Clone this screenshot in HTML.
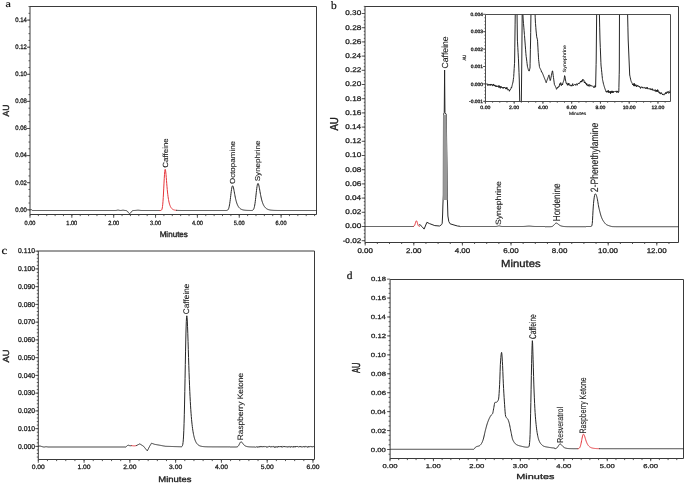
<!DOCTYPE html>
<html><head><meta charset="utf-8"><style>
html,body{margin:0;padding:0;background:#fff;}
body{width:685px;height:484px;overflow:hidden;font-family:"Liberation Sans", sans-serif;}
svg{display:block;filter:blur(0.3px);}
svg text{text-rendering:geometricPrecision;font-kerning:none;letter-spacing:0;white-space:pre;}
</style></head><body>
<svg width="685" height="484" viewBox="0 0 685 484">
<rect width="685" height="484" fill="#fff"/>
<line x1="30.00" y1="6.50" x2="316.50" y2="6.50" stroke="#3a3a3a" stroke-width="1.0"/>
<line x1="316.50" y1="6.50" x2="316.50" y2="214.50" stroke="#3a3a3a" stroke-width="1.0"/>
<line x1="30.00" y1="6.50" x2="30.00" y2="214.50" stroke="#3a3a3a" stroke-width="1.0"/>
<line x1="30.00" y1="214.50" x2="316.50" y2="214.50" stroke="#3a3a3a" stroke-width="1.0"/>
<line x1="28.50" y1="209.80" x2="30.00" y2="209.80" stroke="#444" stroke-width="0.9"/>
<line x1="28.50" y1="203.03" x2="30.00" y2="203.03" stroke="#444" stroke-width="0.9"/>
<line x1="28.50" y1="196.25" x2="30.00" y2="196.25" stroke="#444" stroke-width="0.9"/>
<line x1="28.50" y1="189.48" x2="30.00" y2="189.48" stroke="#444" stroke-width="0.9"/>
<line x1="28.50" y1="182.70" x2="30.00" y2="182.70" stroke="#444" stroke-width="0.9"/>
<line x1="28.50" y1="175.93" x2="30.00" y2="175.93" stroke="#444" stroke-width="0.9"/>
<line x1="28.50" y1="169.15" x2="30.00" y2="169.15" stroke="#444" stroke-width="0.9"/>
<line x1="28.50" y1="162.38" x2="30.00" y2="162.38" stroke="#444" stroke-width="0.9"/>
<line x1="28.50" y1="155.60" x2="30.00" y2="155.60" stroke="#444" stroke-width="0.9"/>
<line x1="28.50" y1="148.82" x2="30.00" y2="148.82" stroke="#444" stroke-width="0.9"/>
<line x1="28.50" y1="142.05" x2="30.00" y2="142.05" stroke="#444" stroke-width="0.9"/>
<line x1="28.50" y1="135.28" x2="30.00" y2="135.28" stroke="#444" stroke-width="0.9"/>
<line x1="28.50" y1="128.50" x2="30.00" y2="128.50" stroke="#444" stroke-width="0.9"/>
<line x1="28.50" y1="121.73" x2="30.00" y2="121.73" stroke="#444" stroke-width="0.9"/>
<line x1="28.50" y1="114.95" x2="30.00" y2="114.95" stroke="#444" stroke-width="0.9"/>
<line x1="28.50" y1="108.18" x2="30.00" y2="108.18" stroke="#444" stroke-width="0.9"/>
<line x1="28.50" y1="101.40" x2="30.00" y2="101.40" stroke="#444" stroke-width="0.9"/>
<line x1="28.50" y1="94.63" x2="30.00" y2="94.63" stroke="#444" stroke-width="0.9"/>
<line x1="28.50" y1="87.85" x2="30.00" y2="87.85" stroke="#444" stroke-width="0.9"/>
<line x1="28.50" y1="81.08" x2="30.00" y2="81.08" stroke="#444" stroke-width="0.9"/>
<line x1="28.50" y1="74.30" x2="30.00" y2="74.30" stroke="#444" stroke-width="0.9"/>
<line x1="28.50" y1="67.53" x2="30.00" y2="67.53" stroke="#444" stroke-width="0.9"/>
<line x1="28.50" y1="60.75" x2="30.00" y2="60.75" stroke="#444" stroke-width="0.9"/>
<line x1="28.50" y1="53.98" x2="30.00" y2="53.98" stroke="#444" stroke-width="0.9"/>
<line x1="28.50" y1="47.20" x2="30.00" y2="47.20" stroke="#444" stroke-width="0.9"/>
<line x1="28.50" y1="40.43" x2="30.00" y2="40.43" stroke="#444" stroke-width="0.9"/>
<line x1="28.50" y1="33.65" x2="30.00" y2="33.65" stroke="#444" stroke-width="0.9"/>
<line x1="28.50" y1="26.88" x2="30.00" y2="26.88" stroke="#444" stroke-width="0.9"/>
<line x1="28.50" y1="20.10" x2="30.00" y2="20.10" stroke="#444" stroke-width="0.9"/>
<line x1="28.50" y1="13.33" x2="30.00" y2="13.33" stroke="#444" stroke-width="0.9"/>
<line x1="28.50" y1="6.55" x2="30.00" y2="6.55" stroke="#444" stroke-width="0.9"/>
<line x1="27.00" y1="209.80" x2="30.00" y2="209.80" stroke="#444" stroke-width="0.9"/>
<line x1="27.00" y1="182.70" x2="30.00" y2="182.70" stroke="#444" stroke-width="0.9"/>
<line x1="27.00" y1="155.60" x2="30.00" y2="155.60" stroke="#444" stroke-width="0.9"/>
<line x1="27.00" y1="128.50" x2="30.00" y2="128.50" stroke="#444" stroke-width="0.9"/>
<line x1="27.00" y1="101.40" x2="30.00" y2="101.40" stroke="#444" stroke-width="0.9"/>
<line x1="27.00" y1="74.30" x2="30.00" y2="74.30" stroke="#444" stroke-width="0.9"/>
<line x1="27.00" y1="47.20" x2="30.00" y2="47.20" stroke="#444" stroke-width="0.9"/>
<line x1="27.00" y1="20.10" x2="30.00" y2="20.10" stroke="#444" stroke-width="0.9"/>
<line x1="30.00" y1="214.50" x2="30.00" y2="216.10" stroke="#444" stroke-width="0.9"/>
<line x1="38.37" y1="214.50" x2="38.37" y2="216.10" stroke="#444" stroke-width="0.9"/>
<line x1="46.74" y1="214.50" x2="46.74" y2="216.10" stroke="#444" stroke-width="0.9"/>
<line x1="55.11" y1="214.50" x2="55.11" y2="216.10" stroke="#444" stroke-width="0.9"/>
<line x1="63.48" y1="214.50" x2="63.48" y2="216.10" stroke="#444" stroke-width="0.9"/>
<line x1="71.85" y1="214.50" x2="71.85" y2="216.10" stroke="#444" stroke-width="0.9"/>
<line x1="80.22" y1="214.50" x2="80.22" y2="216.10" stroke="#444" stroke-width="0.9"/>
<line x1="88.59" y1="214.50" x2="88.59" y2="216.10" stroke="#444" stroke-width="0.9"/>
<line x1="96.96" y1="214.50" x2="96.96" y2="216.10" stroke="#444" stroke-width="0.9"/>
<line x1="105.33" y1="214.50" x2="105.33" y2="216.10" stroke="#444" stroke-width="0.9"/>
<line x1="113.70" y1="214.50" x2="113.70" y2="216.10" stroke="#444" stroke-width="0.9"/>
<line x1="122.07" y1="214.50" x2="122.07" y2="216.10" stroke="#444" stroke-width="0.9"/>
<line x1="130.44" y1="214.50" x2="130.44" y2="216.10" stroke="#444" stroke-width="0.9"/>
<line x1="138.81" y1="214.50" x2="138.81" y2="216.10" stroke="#444" stroke-width="0.9"/>
<line x1="147.18" y1="214.50" x2="147.18" y2="216.10" stroke="#444" stroke-width="0.9"/>
<line x1="155.55" y1="214.50" x2="155.55" y2="216.10" stroke="#444" stroke-width="0.9"/>
<line x1="163.92" y1="214.50" x2="163.92" y2="216.10" stroke="#444" stroke-width="0.9"/>
<line x1="172.29" y1="214.50" x2="172.29" y2="216.10" stroke="#444" stroke-width="0.9"/>
<line x1="180.66" y1="214.50" x2="180.66" y2="216.10" stroke="#444" stroke-width="0.9"/>
<line x1="189.03" y1="214.50" x2="189.03" y2="216.10" stroke="#444" stroke-width="0.9"/>
<line x1="197.40" y1="214.50" x2="197.40" y2="216.10" stroke="#444" stroke-width="0.9"/>
<line x1="205.77" y1="214.50" x2="205.77" y2="216.10" stroke="#444" stroke-width="0.9"/>
<line x1="214.14" y1="214.50" x2="214.14" y2="216.10" stroke="#444" stroke-width="0.9"/>
<line x1="222.51" y1="214.50" x2="222.51" y2="216.10" stroke="#444" stroke-width="0.9"/>
<line x1="230.88" y1="214.50" x2="230.88" y2="216.10" stroke="#444" stroke-width="0.9"/>
<line x1="239.25" y1="214.50" x2="239.25" y2="216.10" stroke="#444" stroke-width="0.9"/>
<line x1="247.62" y1="214.50" x2="247.62" y2="216.10" stroke="#444" stroke-width="0.9"/>
<line x1="255.99" y1="214.50" x2="255.99" y2="216.10" stroke="#444" stroke-width="0.9"/>
<line x1="264.36" y1="214.50" x2="264.36" y2="216.10" stroke="#444" stroke-width="0.9"/>
<line x1="272.73" y1="214.50" x2="272.73" y2="216.10" stroke="#444" stroke-width="0.9"/>
<line x1="281.10" y1="214.50" x2="281.10" y2="216.10" stroke="#444" stroke-width="0.9"/>
<line x1="289.47" y1="214.50" x2="289.47" y2="216.10" stroke="#444" stroke-width="0.9"/>
<line x1="297.84" y1="214.50" x2="297.84" y2="216.10" stroke="#444" stroke-width="0.9"/>
<line x1="306.21" y1="214.50" x2="306.21" y2="216.10" stroke="#444" stroke-width="0.9"/>
<line x1="314.58" y1="214.50" x2="314.58" y2="216.10" stroke="#444" stroke-width="0.9"/>
<line x1="30.00" y1="214.50" x2="30.00" y2="217.80" stroke="#444" stroke-width="0.9"/>
<line x1="71.85" y1="214.50" x2="71.85" y2="217.80" stroke="#444" stroke-width="0.9"/>
<line x1="113.70" y1="214.50" x2="113.70" y2="217.80" stroke="#444" stroke-width="0.9"/>
<line x1="155.55" y1="214.50" x2="155.55" y2="217.80" stroke="#444" stroke-width="0.9"/>
<line x1="197.40" y1="214.50" x2="197.40" y2="217.80" stroke="#444" stroke-width="0.9"/>
<line x1="239.25" y1="214.50" x2="239.25" y2="217.80" stroke="#444" stroke-width="0.9"/>
<line x1="281.10" y1="214.50" x2="281.10" y2="217.80" stroke="#444" stroke-width="0.9"/>
<text transform="matrix(0.59237 0 0 0.64971 15.302 211.637)" font-family='"Liberation Sans", sans-serif' font-size="10" fill="#262626" stroke="#262626" stroke-width="0.483" stroke-linejoin="round">0.00</text>
<text transform="matrix(0.59237 0 0 0.64971 15.369 184.537)" font-family='"Liberation Sans", sans-serif' font-size="10" fill="#262626" stroke="#262626" stroke-width="0.483" stroke-linejoin="round">0.02</text>
<text transform="matrix(0.59237 0 0 0.64971 15.244 157.437)" font-family='"Liberation Sans", sans-serif' font-size="10" fill="#262626" stroke="#262626" stroke-width="0.483" stroke-linejoin="round">0.04</text>
<text transform="matrix(0.59237 0 0 0.64971 15.331 130.337)" font-family='"Liberation Sans", sans-serif' font-size="10" fill="#262626" stroke="#262626" stroke-width="0.483" stroke-linejoin="round">0.06</text>
<text transform="matrix(0.59237 0 0 0.64971 15.328 103.237)" font-family='"Liberation Sans", sans-serif' font-size="10" fill="#262626" stroke="#262626" stroke-width="0.483" stroke-linejoin="round">0.08</text>
<text transform="matrix(0.59237 0 0 0.64971 15.302 76.137)" font-family='"Liberation Sans", sans-serif' font-size="10" fill="#262626" stroke="#262626" stroke-width="0.483" stroke-linejoin="round">0.10</text>
<text transform="matrix(0.59237 0 0 0.64971 15.369 49.037)" font-family='"Liberation Sans", sans-serif' font-size="10" fill="#262626" stroke="#262626" stroke-width="0.483" stroke-linejoin="round">0.12</text>
<text transform="matrix(0.59237 0 0 0.64971 15.244 21.937)" font-family='"Liberation Sans", sans-serif' font-size="10" fill="#262626" stroke="#262626" stroke-width="0.483" stroke-linejoin="round">0.14</text>
<text transform="matrix(0.56176 0 0 0.60734 24.533 224.941)" font-family='"Liberation Sans", sans-serif' font-size="10" fill="#262626" stroke="#262626" stroke-width="0.513" stroke-linejoin="round">0.00</text>
<text transform="matrix(0.56176 0 0 0.60734 66.279 224.941)" font-family='"Liberation Sans", sans-serif' font-size="10" fill="#262626" stroke="#262626" stroke-width="0.513" stroke-linejoin="round">1.00</text>
<text transform="matrix(0.56176 0 0 0.60734 108.202 224.941)" font-family='"Liberation Sans", sans-serif' font-size="10" fill="#262626" stroke="#262626" stroke-width="0.513" stroke-linejoin="round">2.00</text>
<text transform="matrix(0.56176 0 0 0.60734 150.086 224.941)" font-family='"Liberation Sans", sans-serif' font-size="10" fill="#262626" stroke="#262626" stroke-width="0.513" stroke-linejoin="round">3.00</text>
<text transform="matrix(0.56176 0 0 0.60734 191.979 224.941)" font-family='"Liberation Sans", sans-serif' font-size="10" fill="#262626" stroke="#262626" stroke-width="0.513" stroke-linejoin="round">4.00</text>
<text transform="matrix(0.56176 0 0 0.60734 233.781 224.941)" font-family='"Liberation Sans", sans-serif' font-size="10" fill="#262626" stroke="#262626" stroke-width="0.513" stroke-linejoin="round">5.00</text>
<text transform="matrix(0.56176 0 0 0.60734 275.600 224.941)" font-family='"Liberation Sans", sans-serif' font-size="10" fill="#262626" stroke="#262626" stroke-width="0.513" stroke-linejoin="round">6.00</text>
<path d="M30.00,210.25 L30.25,210.04 L30.50,209.79 L30.75,209.58 L31.00,209.50 L31.25,209.58 L31.50,209.79 L31.75,210.04 L32.00,210.25 L32.25,210.39 L32.50,210.46 L32.75,210.49 L33.00,210.50 L33.25,210.50 L33.50,210.50 L33.75,210.50 L34.00,210.50 L34.25,210.50 L34.50,210.50 L34.75,210.50 L35.00,210.50 L35.25,210.50 L35.50,210.50 L35.75,210.50 L36.00,210.50 L36.25,210.50 L36.50,210.50 L36.75,210.50 L37.00,210.50 L37.25,210.50 L37.50,210.50 L37.75,210.50 L38.00,210.50 L38.25,210.50 L38.50,210.50 L38.75,210.50 L39.00,210.50 L39.25,210.50 L39.50,210.50 L39.75,210.50 L40.00,210.50 L40.25,210.50 L40.50,210.50 L40.75,210.50 L41.00,210.50 L41.25,210.50 L41.50,210.50 L41.75,210.50 L42.00,210.50 L42.25,210.50 L42.50,210.50 L42.75,210.50 L43.00,210.50 L43.25,210.50 L43.50,210.50 L43.75,210.50 L44.00,210.50 L44.25,210.50 L44.50,210.50 L44.75,210.50 L45.00,210.50 L45.25,210.50 L45.50,210.50 L45.75,210.50 L46.00,210.50 L46.25,210.50 L46.50,210.50 L46.75,210.50 L47.00,210.50 L47.25,210.50 L47.50,210.50 L47.75,210.50 L48.00,210.50 L48.25,210.50 L48.50,210.50 L48.75,210.50 L49.00,210.50 L49.25,210.50 L49.50,210.50 L49.75,210.50 L50.00,210.50 L50.25,210.50 L50.50,210.50 L50.75,210.50 L51.00,210.50 L51.25,210.50 L51.50,210.50 L51.75,210.50 L52.00,210.50 L52.25,210.50 L52.50,210.50 L52.75,210.50 L53.00,210.50 L53.25,210.50 L53.50,210.50 L53.75,210.50 L54.00,210.50 L54.25,210.50 L54.50,210.50 L54.75,210.50 L55.00,210.50 L55.25,210.50 L55.50,210.50 L55.75,210.50 L56.00,210.50 L56.25,210.50 L56.50,210.50 L56.75,210.50 L57.00,210.50 L57.25,210.50 L57.50,210.50 L57.75,210.50 L58.00,210.50 L58.25,210.50 L58.50,210.50 L58.75,210.50 L59.00,210.50 L59.25,210.50 L59.50,210.50 L59.75,210.50 L60.00,210.50 L60.25,210.50 L60.50,210.50 L60.75,210.50 L61.00,210.50 L61.25,210.50 L61.50,210.50 L61.75,210.50 L62.00,210.50 L62.25,210.50 L62.50,210.50 L62.75,210.50 L63.00,210.50 L63.25,210.50 L63.50,210.50 L63.75,210.50 L64.00,210.50 L64.25,210.50 L64.50,210.50 L64.75,210.50 L65.00,210.50 L65.25,210.50 L65.50,210.50 L65.75,210.50 L66.00,210.50 L66.25,210.50 L66.50,210.50 L66.75,210.50 L67.00,210.50 L67.25,210.50 L67.50,210.50 L67.75,210.50 L68.00,210.50 L68.25,210.50 L68.50,210.50 L68.75,210.50 L69.00,210.50 L69.25,210.50 L69.50,210.50 L69.75,210.50 L70.00,210.50 L70.25,210.50 L70.50,210.50 L70.75,210.50 L71.00,210.50 L71.25,210.50 L71.50,210.50 L71.75,210.50 L72.00,210.50 L72.25,210.50 L72.50,210.50 L72.75,210.50 L73.00,210.50 L73.25,210.50 L73.50,210.50 L73.75,210.50 L74.00,210.50 L74.25,210.50 L74.50,210.50 L74.75,210.50 L75.00,210.50 L75.25,210.50 L75.50,210.50 L75.75,210.50 L76.00,210.50 L76.25,210.50 L76.50,210.50 L76.75,210.50 L77.00,210.50 L77.25,210.50 L77.50,210.50 L77.75,210.50 L78.00,210.50 L78.25,210.50 L78.50,210.50 L78.75,210.50 L79.00,210.50 L79.25,210.50 L79.50,210.50 L79.75,210.50 L80.00,210.50 L80.25,210.50 L80.50,210.50 L80.75,210.50 L81.00,210.50 L81.25,210.50 L81.50,210.50 L81.75,210.50 L82.00,210.50 L82.25,210.50 L82.50,210.50 L82.75,210.50 L83.00,210.50 L83.25,210.50 L83.50,210.50 L83.75,210.50 L84.00,210.50 L84.25,210.50 L84.50,210.50 L84.75,210.50 L85.00,210.50 L85.25,210.50 L85.50,210.50 L85.75,210.50 L86.00,210.50 L86.25,210.50 L86.50,210.50 L86.75,210.50 L87.00,210.50 L87.25,210.50 L87.50,210.50 L87.75,210.50 L88.00,210.50 L88.25,210.50 L88.50,210.50 L88.75,210.50 L89.00,210.50 L89.25,210.50 L89.50,210.50 L89.75,210.50 L90.00,210.50 L90.25,210.50 L90.50,210.50 L90.75,210.50 L91.00,210.50 L91.25,210.50 L91.50,210.50 L91.75,210.50 L92.00,210.50 L92.25,210.50 L92.50,210.50 L92.75,210.50 L93.00,210.50 L93.25,210.50 L93.50,210.50 L93.75,210.50 L94.00,210.50 L94.25,210.50 L94.50,210.50 L94.75,210.50 L95.00,210.50 L95.25,210.50 L95.50,210.50 L95.75,210.50 L96.00,210.50 L96.25,210.50 L96.50,210.50 L96.75,210.50 L97.00,210.50 L97.25,210.50 L97.50,210.50 L97.75,210.50 L98.00,210.50 L98.25,210.50 L98.50,210.50 L98.75,210.50 L99.00,210.50 L99.25,210.50 L99.50,210.50 L99.75,210.50 L100.00,210.50 L100.25,210.50 L100.50,210.50 L100.75,210.50 L101.00,210.50 L101.25,210.50 L101.50,210.50 L101.75,210.50 L102.00,210.50 L102.25,210.50 L102.50,210.50 L102.75,210.50 L103.00,210.50 L103.25,210.50 L103.50,210.50 L103.75,210.50 L104.00,210.50 L104.25,210.50 L104.50,210.50 L104.75,210.50 L105.00,210.50 L105.25,210.50 L105.50,210.50 L105.75,210.50 L106.00,210.50 L106.25,210.50 L106.50,210.50 L106.75,210.50 L107.00,210.50 L107.25,210.50 L107.50,210.50 L107.75,210.50 L108.00,210.50 L108.25,210.50 L108.50,210.50 L108.75,210.50 L109.00,210.50 L109.25,210.50 L109.50,210.50 L109.75,210.50 L110.00,210.50 L110.25,210.50 L110.50,210.50 L110.75,210.50 L111.00,210.50 L111.25,210.50 L111.50,210.50 L111.75,210.50 L112.00,210.50 L112.25,210.50 L112.50,210.50 L112.75,210.50 L113.00,210.50 L113.25,210.50 L113.50,210.50 L113.75,210.50 L114.00,210.50 L114.25,210.50 L114.50,210.50 L114.75,210.50 L115.00,210.50 L115.25,210.49 L115.50,210.48 L115.75,210.47 L116.00,210.45 L116.25,210.41 L116.50,210.37 L116.75,210.32 L117.00,210.26 L117.25,210.20 L117.50,210.15 L117.75,210.11 L118.00,210.10 L118.25,210.11 L118.50,210.15 L118.75,210.20 L119.00,210.26 L119.25,210.32 L119.50,210.37 L119.75,210.41 L120.00,210.44 L120.25,210.46 L120.50,210.47 L120.75,210.47 L121.00,210.45 L121.25,210.43 L121.50,210.40 L121.75,210.36 L122.00,210.32 L122.25,210.27 L122.50,210.24 L122.75,210.21 L123.00,210.20 L123.25,210.21 L123.50,210.24 L123.75,210.27 L124.00,210.32 L124.25,210.36 L124.50,210.40 L124.75,210.44 L125.00,210.47 L125.25,210.49 L125.50,210.51 L125.75,210.53 L126.00,210.57 L126.25,210.61 L126.50,210.69 L126.75,210.79 L127.00,210.93 L127.25,211.12 L127.50,211.37 L127.75,211.66 L128.00,212.00 L128.25,212.37 L128.50,212.74 L128.75,213.08 L129.00,213.38 L129.25,213.59 L129.50,213.69 L129.75,213.68 L130.00,213.55 L130.25,213.32 L130.50,213.02 L130.75,212.66 L131.00,212.29 L131.25,211.93 L131.50,211.60 L131.75,211.32 L132.00,211.08 L132.25,210.90 L132.50,210.77 L132.75,210.67 L133.00,210.60 L133.25,210.56 L133.50,210.53 L133.75,210.51 L134.00,210.50 L134.25,210.49 L134.50,210.48 L134.75,210.47 L135.00,210.46 L135.25,210.44 L135.50,210.43 L135.75,210.40 L136.00,210.38 L136.25,210.35 L136.50,210.32 L136.75,210.29 L137.00,210.26 L137.25,210.24 L137.50,210.22 L137.75,210.20 L138.00,210.20 L138.25,210.20 L138.50,210.22 L138.75,210.24 L139.00,210.26 L139.25,210.29 L139.50,210.32 L139.75,210.35 L140.00,210.38 L140.25,210.40 L140.50,210.43 L140.75,210.44 L141.00,210.46 L141.25,210.47 L141.50,210.48 L141.75,210.49 L142.00,210.49 L142.25,210.49 L142.50,210.50 L142.75,210.50 L143.00,210.50 L143.25,210.50 L143.50,210.50 L143.75,210.50 L144.00,210.50 L144.25,210.50 L144.50,210.50 L144.75,210.50 L145.00,210.50 L145.25,210.50 L145.50,210.50 L145.75,210.50 L146.00,210.50 L146.25,210.50 L146.50,210.50 L146.75,210.50 L147.00,210.50 L147.25,210.50 L147.50,210.50 L147.75,210.50 L148.00,210.50 L148.25,210.50 L148.50,210.50 L148.75,210.50 L149.00,210.50 L149.25,210.50 L149.50,210.50 L149.75,210.50 L150.00,210.50 L150.25,210.50 L150.50,210.50 L150.75,210.50 L151.00,210.50 L151.25,210.50 L151.50,210.50 L151.75,210.50 L152.00,210.50 L152.25,210.50 L152.50,210.50 L152.75,210.50 L153.00,210.50 L153.25,210.50 L153.50,210.50 L153.75,210.50 L154.00,210.50 L154.25,210.50 L154.50,210.50 L154.75,210.50 L155.00,210.50 L155.25,210.50 L155.50,210.50 L155.75,210.50 L156.00,210.50 L156.25,210.50 L156.50,210.50 L156.75,210.50 L157.00,210.50 L157.25,210.50 L157.50,210.50 L157.75,210.50 L158.00,210.50 L158.25,210.50 L158.50,210.50 L158.75,210.50 L159.00,210.50 L159.25,210.50 L159.50,210.50 L159.75,210.50 L160.00,210.50" fill="none" stroke="#262626" stroke-width="1.0" stroke-linejoin="round" stroke-linecap="round"/>
<path d="M160.00,210.50 L160.25,210.49 L160.50,210.48 L160.75,210.46 L161.00,210.40 L161.25,210.29 L161.50,210.09 L161.75,209.71 L162.00,209.07 L162.25,208.03 L162.50,206.47 L162.75,204.24 L163.00,201.24 L163.25,197.47 L163.50,193.01 L163.75,188.11 L164.00,183.09 L164.25,178.37 L164.50,174.36 L164.75,171.40 L165.00,169.71 L165.25,169.33 L165.50,170.15 L165.75,171.97 L166.00,174.51 L166.25,177.48 L166.50,180.64 L166.75,183.77 L167.00,186.76 L167.25,189.53 L167.50,192.03 L167.75,194.27 L168.00,196.26 L168.25,198.01 L168.50,199.54 L168.75,200.89 L169.00,202.08 L169.25,203.12 L169.50,204.03 L169.75,204.82 L170.00,205.52 L170.25,206.14 L170.50,206.68 L170.75,207.15 L171.00,207.56 L171.25,207.92 L171.50,208.24 L171.75,208.52 L172.00,208.76 L172.25,208.98 L172.50,209.17 L172.75,209.33 L173.00,209.47 L173.25,209.60 L173.50,209.71 L173.75,209.81 L174.00,209.89 L174.25,209.97 L174.50,210.03 L174.75,210.09 L175.00,210.14 L175.25,210.19 L175.50,210.22 L175.75,210.26 L176.00,210.29 L176.25,210.31 L176.50,210.34" fill="none" stroke="#e6343a" stroke-width="1.0" stroke-linejoin="round" stroke-linecap="round"/>
<path d="M176.50,210.34 L176.75,210.36 L177.00,210.38 L177.25,210.39 L177.50,210.40 L177.75,210.42 L178.00,210.43 L178.25,210.44 L178.50,210.44 L178.75,210.45 L179.00,210.46 L179.25,210.46 L179.50,210.47 L179.75,210.47 L180.00,210.47 L180.25,210.48 L180.50,210.48 L180.75,210.48 L181.00,210.48 L181.25,210.49 L181.50,210.49 L181.75,210.49 L182.00,210.49 L182.25,210.49 L182.50,210.49 L182.75,210.49 L183.00,210.49 L183.25,210.50 L183.50,210.50 L183.75,210.50 L184.00,210.50 L184.25,210.50 L184.50,210.50 L184.75,210.50 L185.00,210.50 L185.25,210.50 L185.50,210.50 L185.75,210.50 L186.00,210.50 L186.25,210.50 L186.50,210.50 L186.75,210.50 L187.00,210.50 L187.25,210.50 L187.50,210.50 L187.75,210.50 L188.00,210.50 L188.25,210.50 L188.50,210.50 L188.75,210.50 L189.00,210.50 L189.25,210.50 L189.50,210.50 L189.75,210.50 L190.00,210.50 L190.25,210.50 L190.50,210.50 L190.75,210.50 L191.00,210.50 L191.25,210.50 L191.50,210.50 L191.75,210.50 L192.00,210.50 L192.25,210.50 L192.50,210.50 L192.75,210.50 L193.00,210.50 L193.25,210.50 L193.50,210.50 L193.75,210.50 L194.00,210.50 L194.25,210.50 L194.50,210.50 L194.75,210.50 L195.00,210.50 L195.25,210.50 L195.50,210.50 L195.75,210.50 L196.00,210.50 L196.25,210.50 L196.50,210.50 L196.75,210.50 L197.00,210.50 L197.25,210.50 L197.50,210.50 L197.75,210.50 L198.00,210.50 L198.25,210.50 L198.50,210.50 L198.75,210.50 L199.00,210.50 L199.25,210.50 L199.50,210.50 L199.75,210.50 L200.00,210.50 L200.25,210.50 L200.50,210.50 L200.75,210.50 L201.00,210.50 L201.25,210.50 L201.50,210.50 L201.75,210.50 L202.00,210.50 L202.25,210.50 L202.50,210.50 L202.75,210.50 L203.00,210.50 L203.25,210.50 L203.50,210.50 L203.75,210.50 L204.00,210.50 L204.25,210.50 L204.50,210.50 L204.75,210.50 L205.00,210.50 L205.25,210.50 L205.50,210.50 L205.75,210.50 L206.00,210.50 L206.25,210.50 L206.50,210.50 L206.75,210.50 L207.00,210.50 L207.25,210.50 L207.50,210.50 L207.75,210.50 L208.00,210.50 L208.25,210.50 L208.50,210.50 L208.75,210.50 L209.00,210.50 L209.25,210.50 L209.50,210.50 L209.75,210.50 L210.00,210.50 L210.25,210.50 L210.50,210.50 L210.75,210.50 L211.00,210.50 L211.25,210.50 L211.50,210.50 L211.75,210.50 L212.00,210.50 L212.25,210.50 L212.50,210.50 L212.75,210.50 L213.00,210.50 L213.25,210.50 L213.50,210.50 L213.75,210.50 L214.00,210.50 L214.25,210.50 L214.50,210.50 L214.75,210.50 L215.00,210.50 L215.25,210.50 L215.50,210.50 L215.75,210.50 L216.00,210.50 L216.25,210.50 L216.50,210.50 L216.75,210.50 L217.00,210.50 L217.25,210.50 L217.50,210.50 L217.75,210.50 L218.00,210.50 L218.25,210.50 L218.50,210.50 L218.75,210.50 L219.00,210.50 L219.25,210.50 L219.50,210.50 L219.75,210.50 L220.00,210.50 L220.25,210.50 L220.50,210.50 L220.75,210.50 L221.00,210.50 L221.25,210.50 L221.50,210.50 L221.75,210.50 L222.00,210.50 L222.25,210.50 L222.50,210.50 L222.75,210.50 L223.00,210.50 L223.25,210.50 L223.50,210.50 L223.75,210.50 L224.00,210.50 L224.25,210.50 L224.50,210.50 L224.75,210.50 L225.00,210.50 L225.25,210.50 L225.50,210.50 L225.75,210.49 L226.00,210.49 L226.25,210.48 L226.50,210.46 L226.75,210.43 L227.00,210.38 L227.25,210.30 L227.50,210.18 L227.75,210.00 L228.00,209.74 L228.25,209.37 L228.50,208.86 L228.75,208.19 L229.00,207.32 L229.25,206.24 L229.50,204.92 L229.75,203.37 L230.00,201.60 L230.25,199.65 L230.50,197.58 L230.75,195.45 L231.00,193.34 L231.25,191.36 L231.50,189.59 L231.75,188.10 L232.00,186.95 L232.25,186.19 L232.50,185.83 L232.75,185.87 L233.00,186.26 L233.25,186.97 L233.50,187.93 L233.75,189.09 L234.00,190.39 L234.25,191.75 L234.50,193.15 L234.75,194.53 L235.00,195.87 L235.25,197.14 L235.50,198.33 L235.75,199.44 L236.00,200.47 L236.25,201.40 L236.50,202.26 L236.75,203.04 L237.00,203.75 L237.25,204.39 L237.50,204.97 L237.75,205.49 L238.00,205.97 L238.25,206.40 L238.50,206.79 L238.75,207.14 L239.00,207.46 L239.25,207.75 L239.50,208.01 L239.75,208.25 L240.00,208.46 L240.25,208.66 L240.50,208.83 L240.75,208.99 L241.00,209.14 L241.25,209.27 L241.50,209.38 L241.75,209.49 L242.00,209.59 L242.25,209.67 L242.50,209.75 L242.75,209.82 L243.00,209.89 L243.25,209.95 L243.50,210.00 L243.75,210.05 L244.00,210.09 L244.25,210.13 L244.50,210.16 L244.75,210.20 L245.00,210.22 L245.25,210.25 L245.50,210.27 L245.75,210.30 L246.00,210.32 L246.25,210.33 L246.50,210.35 L246.75,210.36 L247.00,210.38 L247.25,210.39 L247.50,210.40 L247.75,210.41 L248.00,210.42 L248.25,210.42 L248.50,210.43 L248.75,210.44 L249.00,210.44 L249.25,210.45 L249.50,210.45 L249.75,210.46 L250.00,210.46 L250.25,210.47 L250.50,210.47 L250.75,210.47 L251.00,210.47 L251.25,210.47 L251.50,210.46 L251.75,210.44 L252.00,210.42 L252.25,210.37 L252.50,210.30 L252.75,210.19 L253.00,210.02 L253.25,209.78 L253.50,209.43 L253.75,208.94 L254.00,208.28 L254.25,207.43 L254.50,206.35 L254.75,205.02 L255.00,203.43 L255.25,201.61 L255.50,199.57 L255.75,197.36 L256.00,195.06 L256.25,192.75 L256.50,190.53 L256.75,188.48 L257.00,186.71 L257.25,185.27 L257.50,184.23 L257.75,183.60 L258.00,183.40 L258.25,183.59 L258.50,184.15 L258.75,185.00 L259.00,186.10 L259.25,187.36 L259.50,188.74 L259.75,190.18 L260.00,191.63 L260.25,193.05 L260.50,194.42 L260.75,195.73 L261.00,196.95 L261.25,198.09 L261.50,199.15 L261.75,200.13 L262.00,201.02 L262.25,201.84 L262.50,202.59 L262.75,203.28 L263.00,203.90 L263.25,204.48 L263.50,205.00 L263.75,205.48 L264.00,205.91 L264.25,206.31 L264.50,206.68 L264.75,207.01 L265.00,207.31 L265.25,207.59 L265.50,207.84 L265.75,208.07 L266.00,208.28 L266.25,208.48 L266.50,208.65 L266.75,208.81 L267.00,208.96 L267.25,209.09 L267.50,209.22 L267.75,209.33 L268.00,209.43 L268.25,209.52 L268.50,209.61 L268.75,209.68 L269.00,209.76 L269.25,209.82 L269.50,209.88 L269.75,209.93 L270.00,209.98 L270.25,210.03 L270.50,210.07 L270.75,210.11 L271.00,210.14 L271.25,210.17 L271.50,210.20 L271.75,210.23 L272.00,210.25 L272.25,210.27 L272.50,210.29 L272.75,210.31 L273.00,210.33 L273.25,210.34 L273.50,210.36 L273.75,210.37 L274.00,210.38 L274.25,210.39 L274.50,210.40 L274.75,210.41 L275.00,210.42 L275.25,210.42 L275.50,210.43 L275.75,210.44 L276.00,210.44 L276.25,210.45 L276.50,210.45 L276.75,210.46 L277.00,210.46 L277.25,210.46 L277.50,210.47 L277.75,210.47 L278.00,210.47 L278.25,210.47 L278.50,210.48 L278.75,210.48 L279.00,210.48 L279.25,210.48 L279.50,210.48 L279.75,210.49 L280.00,210.49 L280.25,210.49 L280.50,210.49 L280.75,210.49 L281.00,210.49 L281.25,210.49 L281.50,210.49 L281.75,210.49 L282.00,210.49 L282.25,210.49 L282.50,210.49 L282.75,210.49 L283.00,210.50 L283.25,210.50 L283.50,210.50 L283.75,210.50 L284.00,210.50 L284.25,210.50 L284.50,210.50 L284.75,210.50 L285.00,210.50 L285.25,210.50 L285.50,210.50 L285.75,210.50 L286.00,210.50 L286.25,210.50 L286.50,210.50 L286.75,210.50 L287.00,210.50 L287.25,210.50 L287.50,210.50 L287.75,210.50 L288.00,210.50 L288.25,210.50 L288.50,210.50 L288.75,210.50 L289.00,210.50 L289.25,210.50 L289.50,210.50 L289.75,210.50 L290.00,210.50 L290.25,210.50 L290.50,210.50 L290.75,210.50 L291.00,210.50 L291.25,210.50 L291.50,210.50 L291.75,210.50 L292.00,210.50 L292.25,210.50 L292.50,210.50 L292.75,210.50 L293.00,210.50 L293.25,210.50 L293.50,210.50 L293.75,210.50 L294.00,210.50 L294.25,210.50 L294.50,210.50 L294.75,210.50 L295.00,210.50 L295.25,210.50 L295.50,210.50 L295.75,210.50 L296.00,210.50 L296.25,210.50 L296.50,210.50 L296.75,210.50 L297.00,210.50 L297.25,210.50 L297.50,210.50 L297.75,210.50 L298.00,210.50 L298.25,210.50 L298.50,210.50 L298.75,210.50 L299.00,210.50 L299.25,210.50 L299.50,210.50 L299.75,210.50 L300.00,210.50 L300.25,210.50 L300.50,210.50 L300.75,210.50 L301.00,210.50 L301.25,210.50 L301.50,210.50 L301.75,210.50 L302.00,210.50 L302.25,210.50 L302.50,210.50 L302.75,210.50 L303.00,210.50 L303.25,210.50 L303.50,210.50 L303.75,210.50 L304.00,210.50 L304.25,210.50 L304.50,210.50 L304.75,210.50 L305.00,210.50 L305.25,210.50 L305.50,210.50 L305.75,210.50 L306.00,210.50 L306.25,210.50 L306.50,210.50 L306.75,210.50 L307.00,210.50 L307.25,210.50 L307.50,210.50 L307.75,210.50 L308.00,210.50 L308.25,210.50 L308.50,210.50 L308.75,210.50 L309.00,210.50 L309.25,210.50 L309.50,210.50 L309.75,210.50 L310.00,210.50 L310.25,210.50 L310.50,210.50 L310.75,210.50 L311.00,210.50 L311.25,210.50 L311.50,210.50 L311.75,210.50 L312.00,210.50 L312.25,210.50 L312.50,210.50 L312.75,210.50 L313.00,210.50 L313.25,210.50 L313.50,210.50 L313.75,210.50 L314.00,210.50 L314.25,210.50 L314.50,210.50 L314.75,210.50 L315.00,210.50 L315.25,210.50 L315.50,210.50 L315.75,210.50 L316.00,210.50 L316.25,210.50" fill="none" stroke="#262626" stroke-width="1.0" stroke-linejoin="round" stroke-linecap="round"/>
<text transform="matrix(0 -0.79077 0.74894 0 168.227 167.702)" font-family='"Liberation Sans", sans-serif' font-size="10" fill="#222" stroke="#222" stroke-width="0.156" stroke-linejoin="round">Caffeine</text>
<text transform="matrix(0 -0.80003 0.72951 0 234.786 184.079)" font-family='"Liberation Sans", sans-serif' font-size="10" fill="#222" stroke="#222" stroke-width="0.157" stroke-linejoin="round">Octopamine</text>
<text transform="matrix(0 -0.80495 0.71878 0 259.808 181.266)" font-family='"Liberation Sans", sans-serif' font-size="10" fill="#222" stroke="#222" stroke-width="0.158" stroke-linejoin="round">Synephrine</text>
<text transform="matrix(0 -0.85492 0.88857 0 8.513 116.517)" font-family='"Liberation Sans", sans-serif' font-size="10" fill="#222" stroke="#222" stroke-width="0.401" stroke-linejoin="round">AU</text>
<text transform="matrix(0.80690 0 0 0.80340 159.638 237.322)" font-family='"Liberation Sans", sans-serif' font-size="10" fill="#222" stroke="#222" stroke-width="0.435" stroke-linejoin="round">Minutes</text>
<text transform="matrix(1.21513 0 0 0.99164 5.523 6.553)" font-family='"Liberation Serif", serif' font-size="10" fill="#111" stroke="#111" stroke-width="0.181" stroke-linejoin="round">a</text>
<line x1="365.00" y1="6.50" x2="678.50" y2="6.50" stroke="#3a3a3a" stroke-width="1.0"/>
<line x1="678.50" y1="6.50" x2="678.50" y2="242.50" stroke="#3a3a3a" stroke-width="1.0"/>
<line x1="365.00" y1="6.50" x2="365.00" y2="242.50" stroke="#3a3a3a" stroke-width="1.0"/>
<line x1="365.00" y1="242.50" x2="678.50" y2="242.50" stroke="#3a3a3a" stroke-width="1.0"/>
<line x1="363.80" y1="240.70" x2="365.00" y2="240.70" stroke="#444" stroke-width="0.9"/>
<line x1="363.80" y1="237.15" x2="365.00" y2="237.15" stroke="#444" stroke-width="0.9"/>
<line x1="363.80" y1="233.60" x2="365.00" y2="233.60" stroke="#444" stroke-width="0.9"/>
<line x1="363.80" y1="230.05" x2="365.00" y2="230.05" stroke="#444" stroke-width="0.9"/>
<line x1="363.80" y1="226.50" x2="365.00" y2="226.50" stroke="#444" stroke-width="0.9"/>
<line x1="363.80" y1="222.95" x2="365.00" y2="222.95" stroke="#444" stroke-width="0.9"/>
<line x1="363.80" y1="219.40" x2="365.00" y2="219.40" stroke="#444" stroke-width="0.9"/>
<line x1="363.80" y1="215.85" x2="365.00" y2="215.85" stroke="#444" stroke-width="0.9"/>
<line x1="363.80" y1="212.30" x2="365.00" y2="212.30" stroke="#444" stroke-width="0.9"/>
<line x1="363.80" y1="208.75" x2="365.00" y2="208.75" stroke="#444" stroke-width="0.9"/>
<line x1="363.80" y1="205.20" x2="365.00" y2="205.20" stroke="#444" stroke-width="0.9"/>
<line x1="363.80" y1="201.65" x2="365.00" y2="201.65" stroke="#444" stroke-width="0.9"/>
<line x1="363.80" y1="198.10" x2="365.00" y2="198.10" stroke="#444" stroke-width="0.9"/>
<line x1="363.80" y1="194.55" x2="365.00" y2="194.55" stroke="#444" stroke-width="0.9"/>
<line x1="363.80" y1="191.00" x2="365.00" y2="191.00" stroke="#444" stroke-width="0.9"/>
<line x1="363.80" y1="187.45" x2="365.00" y2="187.45" stroke="#444" stroke-width="0.9"/>
<line x1="363.80" y1="183.90" x2="365.00" y2="183.90" stroke="#444" stroke-width="0.9"/>
<line x1="363.80" y1="180.35" x2="365.00" y2="180.35" stroke="#444" stroke-width="0.9"/>
<line x1="363.80" y1="176.80" x2="365.00" y2="176.80" stroke="#444" stroke-width="0.9"/>
<line x1="363.80" y1="173.25" x2="365.00" y2="173.25" stroke="#444" stroke-width="0.9"/>
<line x1="363.80" y1="169.70" x2="365.00" y2="169.70" stroke="#444" stroke-width="0.9"/>
<line x1="363.80" y1="166.15" x2="365.00" y2="166.15" stroke="#444" stroke-width="0.9"/>
<line x1="363.80" y1="162.60" x2="365.00" y2="162.60" stroke="#444" stroke-width="0.9"/>
<line x1="363.80" y1="159.05" x2="365.00" y2="159.05" stroke="#444" stroke-width="0.9"/>
<line x1="363.80" y1="155.50" x2="365.00" y2="155.50" stroke="#444" stroke-width="0.9"/>
<line x1="363.80" y1="151.95" x2="365.00" y2="151.95" stroke="#444" stroke-width="0.9"/>
<line x1="363.80" y1="148.40" x2="365.00" y2="148.40" stroke="#444" stroke-width="0.9"/>
<line x1="363.80" y1="144.85" x2="365.00" y2="144.85" stroke="#444" stroke-width="0.9"/>
<line x1="363.80" y1="141.30" x2="365.00" y2="141.30" stroke="#444" stroke-width="0.9"/>
<line x1="363.80" y1="137.75" x2="365.00" y2="137.75" stroke="#444" stroke-width="0.9"/>
<line x1="363.80" y1="134.20" x2="365.00" y2="134.20" stroke="#444" stroke-width="0.9"/>
<line x1="363.80" y1="130.65" x2="365.00" y2="130.65" stroke="#444" stroke-width="0.9"/>
<line x1="363.80" y1="127.10" x2="365.00" y2="127.10" stroke="#444" stroke-width="0.9"/>
<line x1="363.80" y1="123.55" x2="365.00" y2="123.55" stroke="#444" stroke-width="0.9"/>
<line x1="363.80" y1="120.00" x2="365.00" y2="120.00" stroke="#444" stroke-width="0.9"/>
<line x1="363.80" y1="116.45" x2="365.00" y2="116.45" stroke="#444" stroke-width="0.9"/>
<line x1="363.80" y1="112.90" x2="365.00" y2="112.90" stroke="#444" stroke-width="0.9"/>
<line x1="363.80" y1="109.35" x2="365.00" y2="109.35" stroke="#444" stroke-width="0.9"/>
<line x1="363.80" y1="105.80" x2="365.00" y2="105.80" stroke="#444" stroke-width="0.9"/>
<line x1="363.80" y1="102.25" x2="365.00" y2="102.25" stroke="#444" stroke-width="0.9"/>
<line x1="363.80" y1="98.70" x2="365.00" y2="98.70" stroke="#444" stroke-width="0.9"/>
<line x1="363.80" y1="95.15" x2="365.00" y2="95.15" stroke="#444" stroke-width="0.9"/>
<line x1="363.80" y1="91.60" x2="365.00" y2="91.60" stroke="#444" stroke-width="0.9"/>
<line x1="363.80" y1="88.05" x2="365.00" y2="88.05" stroke="#444" stroke-width="0.9"/>
<line x1="363.80" y1="84.50" x2="365.00" y2="84.50" stroke="#444" stroke-width="0.9"/>
<line x1="363.80" y1="80.95" x2="365.00" y2="80.95" stroke="#444" stroke-width="0.9"/>
<line x1="363.80" y1="77.40" x2="365.00" y2="77.40" stroke="#444" stroke-width="0.9"/>
<line x1="363.80" y1="73.85" x2="365.00" y2="73.85" stroke="#444" stroke-width="0.9"/>
<line x1="363.80" y1="70.30" x2="365.00" y2="70.30" stroke="#444" stroke-width="0.9"/>
<line x1="363.80" y1="66.75" x2="365.00" y2="66.75" stroke="#444" stroke-width="0.9"/>
<line x1="363.80" y1="63.20" x2="365.00" y2="63.20" stroke="#444" stroke-width="0.9"/>
<line x1="363.80" y1="59.65" x2="365.00" y2="59.65" stroke="#444" stroke-width="0.9"/>
<line x1="363.80" y1="56.10" x2="365.00" y2="56.10" stroke="#444" stroke-width="0.9"/>
<line x1="363.80" y1="52.55" x2="365.00" y2="52.55" stroke="#444" stroke-width="0.9"/>
<line x1="363.80" y1="49.00" x2="365.00" y2="49.00" stroke="#444" stroke-width="0.9"/>
<line x1="363.80" y1="45.45" x2="365.00" y2="45.45" stroke="#444" stroke-width="0.9"/>
<line x1="363.80" y1="41.90" x2="365.00" y2="41.90" stroke="#444" stroke-width="0.9"/>
<line x1="363.80" y1="38.35" x2="365.00" y2="38.35" stroke="#444" stroke-width="0.9"/>
<line x1="363.80" y1="34.80" x2="365.00" y2="34.80" stroke="#444" stroke-width="0.9"/>
<line x1="363.80" y1="31.25" x2="365.00" y2="31.25" stroke="#444" stroke-width="0.9"/>
<line x1="363.80" y1="27.70" x2="365.00" y2="27.70" stroke="#444" stroke-width="0.9"/>
<line x1="363.80" y1="24.15" x2="365.00" y2="24.15" stroke="#444" stroke-width="0.9"/>
<line x1="363.80" y1="20.60" x2="365.00" y2="20.60" stroke="#444" stroke-width="0.9"/>
<line x1="363.80" y1="17.05" x2="365.00" y2="17.05" stroke="#444" stroke-width="0.9"/>
<line x1="363.80" y1="13.50" x2="365.00" y2="13.50" stroke="#444" stroke-width="0.9"/>
<line x1="363.80" y1="9.95" x2="365.00" y2="9.95" stroke="#444" stroke-width="0.9"/>
<line x1="363.80" y1="6.40" x2="365.00" y2="6.40" stroke="#444" stroke-width="0.9"/>
<line x1="361.70" y1="240.70" x2="365.00" y2="240.70" stroke="#444" stroke-width="0.9"/>
<line x1="361.70" y1="226.50" x2="365.00" y2="226.50" stroke="#444" stroke-width="0.9"/>
<line x1="361.70" y1="212.30" x2="365.00" y2="212.30" stroke="#444" stroke-width="0.9"/>
<line x1="361.70" y1="198.10" x2="365.00" y2="198.10" stroke="#444" stroke-width="0.9"/>
<line x1="361.70" y1="183.90" x2="365.00" y2="183.90" stroke="#444" stroke-width="0.9"/>
<line x1="361.70" y1="169.70" x2="365.00" y2="169.70" stroke="#444" stroke-width="0.9"/>
<line x1="361.70" y1="155.50" x2="365.00" y2="155.50" stroke="#444" stroke-width="0.9"/>
<line x1="361.70" y1="141.30" x2="365.00" y2="141.30" stroke="#444" stroke-width="0.9"/>
<line x1="361.70" y1="127.10" x2="365.00" y2="127.10" stroke="#444" stroke-width="0.9"/>
<line x1="361.70" y1="112.90" x2="365.00" y2="112.90" stroke="#444" stroke-width="0.9"/>
<line x1="361.70" y1="98.70" x2="365.00" y2="98.70" stroke="#444" stroke-width="0.9"/>
<line x1="361.70" y1="84.50" x2="365.00" y2="84.50" stroke="#444" stroke-width="0.9"/>
<line x1="361.70" y1="70.30" x2="365.00" y2="70.30" stroke="#444" stroke-width="0.9"/>
<line x1="361.70" y1="56.10" x2="365.00" y2="56.10" stroke="#444" stroke-width="0.9"/>
<line x1="361.70" y1="41.90" x2="365.00" y2="41.90" stroke="#444" stroke-width="0.9"/>
<line x1="361.70" y1="27.70" x2="365.00" y2="27.70" stroke="#444" stroke-width="0.9"/>
<line x1="361.70" y1="13.50" x2="365.00" y2="13.50" stroke="#444" stroke-width="0.9"/>
<line x1="365.20" y1="242.50" x2="365.20" y2="244.00" stroke="#444" stroke-width="0.9"/>
<line x1="377.35" y1="242.50" x2="377.35" y2="244.00" stroke="#444" stroke-width="0.9"/>
<line x1="389.50" y1="242.50" x2="389.50" y2="244.00" stroke="#444" stroke-width="0.9"/>
<line x1="401.65" y1="242.50" x2="401.65" y2="244.00" stroke="#444" stroke-width="0.9"/>
<line x1="413.80" y1="242.50" x2="413.80" y2="244.00" stroke="#444" stroke-width="0.9"/>
<line x1="425.95" y1="242.50" x2="425.95" y2="244.00" stroke="#444" stroke-width="0.9"/>
<line x1="438.10" y1="242.50" x2="438.10" y2="244.00" stroke="#444" stroke-width="0.9"/>
<line x1="450.25" y1="242.50" x2="450.25" y2="244.00" stroke="#444" stroke-width="0.9"/>
<line x1="462.40" y1="242.50" x2="462.40" y2="244.00" stroke="#444" stroke-width="0.9"/>
<line x1="474.55" y1="242.50" x2="474.55" y2="244.00" stroke="#444" stroke-width="0.9"/>
<line x1="486.70" y1="242.50" x2="486.70" y2="244.00" stroke="#444" stroke-width="0.9"/>
<line x1="498.85" y1="242.50" x2="498.85" y2="244.00" stroke="#444" stroke-width="0.9"/>
<line x1="511.00" y1="242.50" x2="511.00" y2="244.00" stroke="#444" stroke-width="0.9"/>
<line x1="523.15" y1="242.50" x2="523.15" y2="244.00" stroke="#444" stroke-width="0.9"/>
<line x1="535.30" y1="242.50" x2="535.30" y2="244.00" stroke="#444" stroke-width="0.9"/>
<line x1="547.45" y1="242.50" x2="547.45" y2="244.00" stroke="#444" stroke-width="0.9"/>
<line x1="559.60" y1="242.50" x2="559.60" y2="244.00" stroke="#444" stroke-width="0.9"/>
<line x1="571.75" y1="242.50" x2="571.75" y2="244.00" stroke="#444" stroke-width="0.9"/>
<line x1="583.90" y1="242.50" x2="583.90" y2="244.00" stroke="#444" stroke-width="0.9"/>
<line x1="596.05" y1="242.50" x2="596.05" y2="244.00" stroke="#444" stroke-width="0.9"/>
<line x1="608.20" y1="242.50" x2="608.20" y2="244.00" stroke="#444" stroke-width="0.9"/>
<line x1="620.35" y1="242.50" x2="620.35" y2="244.00" stroke="#444" stroke-width="0.9"/>
<line x1="632.50" y1="242.50" x2="632.50" y2="244.00" stroke="#444" stroke-width="0.9"/>
<line x1="644.65" y1="242.50" x2="644.65" y2="244.00" stroke="#444" stroke-width="0.9"/>
<line x1="656.80" y1="242.50" x2="656.80" y2="244.00" stroke="#444" stroke-width="0.9"/>
<line x1="668.95" y1="242.50" x2="668.95" y2="244.00" stroke="#444" stroke-width="0.9"/>
<line x1="365.20" y1="242.50" x2="365.20" y2="245.50" stroke="#444" stroke-width="0.9"/>
<line x1="413.80" y1="242.50" x2="413.80" y2="245.50" stroke="#444" stroke-width="0.9"/>
<line x1="462.40" y1="242.50" x2="462.40" y2="245.50" stroke="#444" stroke-width="0.9"/>
<line x1="511.00" y1="242.50" x2="511.00" y2="245.50" stroke="#444" stroke-width="0.9"/>
<line x1="559.60" y1="242.50" x2="559.60" y2="245.50" stroke="#444" stroke-width="0.9"/>
<line x1="608.20" y1="242.50" x2="608.20" y2="245.50" stroke="#444" stroke-width="0.9"/>
<line x1="656.80" y1="242.50" x2="656.80" y2="245.50" stroke="#444" stroke-width="0.9"/>
<text transform="matrix(0.81899 0 0 0.69208 342.645 242.682)" font-family='"Liberation Sans", sans-serif' font-size="10" fill="#262626" stroke="#262626" stroke-width="0.397" stroke-linejoin="round">-0.02</text>
<text transform="matrix(0.81899 0 0 0.69208 345.280 228.482)" font-family='"Liberation Sans", sans-serif' font-size="10" fill="#262626" stroke="#262626" stroke-width="0.397" stroke-linejoin="round">0.00</text>
<text transform="matrix(0.81899 0 0 0.69208 345.372 214.282)" font-family='"Liberation Sans", sans-serif' font-size="10" fill="#262626" stroke="#262626" stroke-width="0.397" stroke-linejoin="round">0.02</text>
<text transform="matrix(0.81899 0 0 0.69208 345.200 200.082)" font-family='"Liberation Sans", sans-serif' font-size="10" fill="#262626" stroke="#262626" stroke-width="0.397" stroke-linejoin="round">0.04</text>
<text transform="matrix(0.81899 0 0 0.69208 345.320 185.882)" font-family='"Liberation Sans", sans-serif' font-size="10" fill="#262626" stroke="#262626" stroke-width="0.397" stroke-linejoin="round">0.06</text>
<text transform="matrix(0.81899 0 0 0.69208 345.316 171.682)" font-family='"Liberation Sans", sans-serif' font-size="10" fill="#262626" stroke="#262626" stroke-width="0.397" stroke-linejoin="round">0.08</text>
<text transform="matrix(0.81899 0 0 0.69208 345.280 157.482)" font-family='"Liberation Sans", sans-serif' font-size="10" fill="#262626" stroke="#262626" stroke-width="0.397" stroke-linejoin="round">0.10</text>
<text transform="matrix(0.81899 0 0 0.69208 345.372 143.282)" font-family='"Liberation Sans", sans-serif' font-size="10" fill="#262626" stroke="#262626" stroke-width="0.397" stroke-linejoin="round">0.12</text>
<text transform="matrix(0.81899 0 0 0.69208 345.200 129.082)" font-family='"Liberation Sans", sans-serif' font-size="10" fill="#262626" stroke="#262626" stroke-width="0.397" stroke-linejoin="round">0.14</text>
<text transform="matrix(0.81899 0 0 0.69208 345.320 114.882)" font-family='"Liberation Sans", sans-serif' font-size="10" fill="#262626" stroke="#262626" stroke-width="0.397" stroke-linejoin="round">0.16</text>
<text transform="matrix(0.81899 0 0 0.69208 345.316 100.682)" font-family='"Liberation Sans", sans-serif' font-size="10" fill="#262626" stroke="#262626" stroke-width="0.397" stroke-linejoin="round">0.18</text>
<text transform="matrix(0.81899 0 0 0.69208 345.280 86.482)" font-family='"Liberation Sans", sans-serif' font-size="10" fill="#262626" stroke="#262626" stroke-width="0.397" stroke-linejoin="round">0.20</text>
<text transform="matrix(0.81899 0 0 0.69208 345.372 72.282)" font-family='"Liberation Sans", sans-serif' font-size="10" fill="#262626" stroke="#262626" stroke-width="0.397" stroke-linejoin="round">0.22</text>
<text transform="matrix(0.81899 0 0 0.69208 345.200 58.082)" font-family='"Liberation Sans", sans-serif' font-size="10" fill="#262626" stroke="#262626" stroke-width="0.397" stroke-linejoin="round">0.24</text>
<text transform="matrix(0.81899 0 0 0.69208 345.320 43.882)" font-family='"Liberation Sans", sans-serif' font-size="10" fill="#262626" stroke="#262626" stroke-width="0.397" stroke-linejoin="round">0.26</text>
<text transform="matrix(0.81899 0 0 0.69208 345.316 29.682)" font-family='"Liberation Sans", sans-serif' font-size="10" fill="#262626" stroke="#262626" stroke-width="0.397" stroke-linejoin="round">0.28</text>
<text transform="matrix(0.81899 0 0 0.69208 345.280 15.482)" font-family='"Liberation Sans", sans-serif' font-size="10" fill="#262626" stroke="#262626" stroke-width="0.397" stroke-linejoin="round">0.30</text>
<text transform="matrix(0.79757 0 0 0.69208 357.438 253.432)" font-family='"Liberation Sans", sans-serif' font-size="10" fill="#262626" stroke="#262626" stroke-width="0.403" stroke-linejoin="round">0.00</text>
<text transform="matrix(0.79757 0 0 0.69208 405.994 253.432)" font-family='"Liberation Sans", sans-serif' font-size="10" fill="#262626" stroke="#262626" stroke-width="0.403" stroke-linejoin="round">2.00</text>
<text transform="matrix(0.79757 0 0 0.69208 454.703 253.432)" font-family='"Liberation Sans", sans-serif' font-size="10" fill="#262626" stroke="#262626" stroke-width="0.403" stroke-linejoin="round">4.00</text>
<text transform="matrix(0.79757 0 0 0.69208 503.192 253.432)" font-family='"Liberation Sans", sans-serif' font-size="10" fill="#262626" stroke="#262626" stroke-width="0.403" stroke-linejoin="round">6.00</text>
<text transform="matrix(0.79757 0 0 0.69208 551.821 253.432)" font-family='"Liberation Sans", sans-serif' font-size="10" fill="#262626" stroke="#262626" stroke-width="0.403" stroke-linejoin="round">8.00</text>
<text transform="matrix(0.79757 0 0 0.69208 598.073 253.432)" font-family='"Liberation Sans", sans-serif' font-size="10" fill="#262626" stroke="#262626" stroke-width="0.403" stroke-linejoin="round">10.00</text>
<text transform="matrix(0.79757 0 0 0.69208 646.673 253.432)" font-family='"Liberation Sans", sans-serif' font-size="10" fill="#262626" stroke="#262626" stroke-width="0.403" stroke-linejoin="round">12.00</text>
<path d="M365.00,226.50 L365.25,226.50 L365.50,226.50 L365.75,226.50 L366.00,226.50 L366.25,226.50 L366.50,226.50 L366.75,226.50 L367.00,226.50 L367.25,226.50 L367.50,226.50 L367.75,226.50 L368.00,226.50 L368.25,226.50 L368.50,226.50 L368.75,226.50 L369.00,226.50 L369.25,226.50 L369.50,226.50 L369.75,226.50 L370.00,226.50 L370.25,226.50 L370.50,226.50 L370.75,226.50 L371.00,226.50 L371.25,226.50 L371.50,226.50 L371.75,226.50 L372.00,226.50 L372.25,226.50 L372.50,226.50 L372.75,226.50 L373.00,226.50 L373.25,226.50 L373.50,226.50 L373.75,226.50 L374.00,226.50 L374.25,226.50 L374.50,226.50 L374.75,226.50 L375.00,226.50 L375.25,226.50 L375.50,226.50 L375.75,226.50 L376.00,226.50 L376.25,226.50 L376.50,226.50 L376.75,226.50 L377.00,226.50 L377.25,226.50 L377.50,226.50 L377.75,226.50 L378.00,226.50 L378.25,226.50 L378.50,226.50 L378.75,226.50 L379.00,226.50 L379.25,226.50 L379.50,226.50 L379.75,226.50 L380.00,226.50 L380.25,226.50 L380.50,226.50 L380.75,226.50 L381.00,226.50 L381.25,226.50 L381.50,226.50 L381.75,226.50 L382.00,226.50 L382.25,226.50 L382.50,226.50 L382.75,226.50 L383.00,226.50 L383.25,226.50 L383.50,226.50 L383.75,226.50 L384.00,226.50 L384.25,226.50 L384.50,226.50 L384.75,226.50 L385.00,226.50 L385.25,226.50 L385.50,226.50 L385.75,226.50 L386.00,226.50 L386.25,226.50 L386.50,226.50 L386.75,226.50 L387.00,226.50 L387.25,226.50 L387.50,226.50 L387.75,226.50 L388.00,226.50 L388.25,226.50 L388.50,226.50 L388.75,226.50 L389.00,226.50 L389.25,226.50 L389.50,226.50 L389.75,226.50 L390.00,226.50 L390.25,226.50 L390.50,226.50 L390.75,226.50 L391.00,226.50 L391.25,226.50 L391.50,226.50 L391.75,226.50 L392.00,226.50 L392.25,226.50 L392.50,226.50 L392.75,226.50 L393.00,226.50 L393.25,226.50 L393.50,226.50 L393.75,226.50 L394.00,226.50 L394.25,226.50 L394.50,226.50 L394.75,226.50 L395.00,226.50 L395.25,226.50 L395.50,226.50 L395.75,226.50 L396.00,226.50 L396.25,226.50 L396.50,226.50 L396.75,226.50 L397.00,226.50 L397.25,226.50 L397.50,226.50 L397.75,226.50 L398.00,226.50 L398.25,226.50 L398.50,226.50 L398.75,226.50 L399.00,226.50 L399.25,226.50 L399.50,226.50 L399.75,226.50 L400.00,226.50 L400.25,226.50 L400.50,226.50 L400.75,226.50 L401.00,226.50 L401.25,226.50 L401.50,226.50 L401.75,226.50 L402.00,226.50 L402.25,226.50 L402.50,226.50 L402.75,226.50 L403.00,226.50 L403.25,226.50 L403.50,226.50 L403.75,226.50 L404.00,226.50 L404.25,226.50 L404.50,226.50 L404.75,226.50 L405.00,226.50 L405.25,226.50 L405.50,226.50 L405.75,226.50 L406.00,226.50 L406.25,226.50 L406.50,226.50 L406.75,226.50 L407.00,226.50 L407.25,226.50 L407.50,226.50 L407.75,226.50 L408.00,226.50 L408.25,226.50 L408.50,226.50 L408.75,226.50 L409.00,226.50 L409.25,226.50 L409.50,226.50 L409.75,226.50 L410.00,226.50 L410.25,226.50 L410.50,226.50 L410.75,226.50 L411.00,226.50 L411.25,226.50 L411.50,226.50 L411.75,226.50 L412.00,226.50 L412.25,226.50 L412.50,226.50 L412.75,226.49 L413.00,226.48 L413.25,226.46 L413.50,226.41" fill="none" stroke="#262626" stroke-width="1.0" stroke-linejoin="round" stroke-linecap="round"/>
<path d="M413.50,226.41 L413.75,226.33 L414.00,226.18 L414.25,225.93 L414.50,225.56 L414.75,225.04 L415.00,224.36 L415.25,223.56 L415.50,222.70 L415.75,221.89 L416.00,221.24 L416.25,220.86 L416.50,220.83 L416.75,221.14 L417.00,221.74 L417.25,222.53 L417.50,223.39 L417.75,224.21 L418.00,224.92 L418.25,225.47 L418.50,225.87 L418.75,226.14 L419.00,226.31 L419.25,226.40" fill="none" stroke="#e6343a" stroke-width="1.0" stroke-linejoin="round" stroke-linecap="round"/>
<path d="M419.30,224.90 L420.00,224.70 L422.10,226.70 L424.10,229.10 L426.90,222.30 L429.50,223.60 L434.80,225.60 L439.60,226.00 L441.60,224.60 L442.20,223.30 L442.60,215.00 L442.90,205.00 L443.30,195.00 L443.40,150.00 L443.50,114.50 L444.25,112.50 L444.45,90.00 L444.60,70.00 L444.75,90.00 L444.95,112.50 L446.30,114.50 L446.60,140.00 L447.00,167.00 L447.40,200.00 L447.90,216.00 L448.80,221.50 L450.10,223.80 L454.00,225.00 L457.50,226.00 L460.00,226.30 L460.25,226.50 L460.50,226.50 L460.75,226.50 L461.00,226.50 L461.25,226.50 L461.50,226.50 L461.75,226.50 L462.00,226.50 L462.25,226.50 L462.50,226.50 L462.75,226.50 L463.00,226.50 L463.25,226.50 L463.50,226.50 L463.75,226.50 L464.00,226.50 L464.25,226.50 L464.50,226.50 L464.75,226.50 L465.00,226.50 L465.25,226.50 L465.50,226.50 L465.75,226.50 L466.00,226.50 L466.25,226.50 L466.50,226.50 L466.75,226.50 L467.00,226.50 L467.25,226.50 L467.50,226.50 L467.75,226.50 L468.00,226.50 L468.25,226.50 L468.50,226.50 L468.75,226.50 L469.00,226.50 L469.25,226.50 L469.50,226.50 L469.75,226.50 L470.00,226.50 L470.25,226.50 L470.50,226.50 L470.75,226.50 L471.00,226.50 L471.25,226.50 L471.50,226.50 L471.75,226.50 L472.00,226.50 L472.25,226.50 L472.50,226.50 L472.75,226.50 L473.00,226.50 L473.25,226.50 L473.50,226.50 L473.75,226.50 L474.00,226.50 L474.25,226.50 L474.50,226.50 L474.75,226.50 L475.00,226.50 L475.25,226.50 L475.50,226.50 L475.75,226.50 L476.00,226.50 L476.25,226.50 L476.50,226.50 L476.75,226.50 L477.00,226.50 L477.25,226.50 L477.50,226.50 L477.75,226.50 L478.00,226.50 L478.25,226.50 L478.50,226.50 L478.75,226.50 L479.00,226.50 L479.25,226.50 L479.50,226.50 L479.75,226.50 L480.00,226.50 L480.25,226.50 L480.50,226.50 L480.75,226.50 L481.00,226.50 L481.25,226.50 L481.50,226.50 L481.75,226.50 L482.00,226.50 L482.25,226.50 L482.50,226.50 L482.75,226.50 L483.00,226.50 L483.25,226.50 L483.50,226.50 L483.75,226.50 L484.00,226.50 L484.25,226.50 L484.50,226.50 L484.75,226.50 L485.00,226.50 L485.25,226.50 L485.50,226.50 L485.75,226.50 L486.00,226.50 L486.25,226.50 L486.50,226.50 L486.75,226.50 L487.00,226.50 L487.25,226.50 L487.50,226.50 L487.75,226.50 L488.00,226.50 L488.25,226.50 L488.50,226.50 L488.75,226.50 L489.00,226.50 L489.25,226.50 L489.50,226.50 L489.75,226.50 L490.00,226.50 L490.25,226.50 L490.50,226.50 L490.75,226.50 L491.00,226.50 L491.25,226.50 L491.50,226.50 L491.75,226.50 L492.00,226.50 L492.25,226.50 L492.50,226.50 L492.75,226.50 L493.00,226.50 L493.25,226.50 L493.50,226.50 L493.75,226.50 L494.00,226.50 L494.25,226.50 L494.50,226.50 L494.75,226.50 L495.00,226.50 L495.25,226.50 L495.50,226.49 L495.75,226.48 L496.00,226.47 L496.25,226.46 L496.50,226.43 L496.75,226.40 L497.00,226.35 L497.25,226.29 L497.50,226.23 L497.75,226.15 L498.00,226.08 L498.25,226.01 L498.50,225.95 L498.75,225.91 L499.00,225.90 L499.25,225.91 L499.50,225.95 L499.75,226.01 L500.00,226.08 L500.25,226.15 L500.50,226.23 L500.75,226.29 L501.00,226.35 L501.25,226.40 L501.50,226.43 L501.75,226.46 L502.00,226.47 L502.25,226.48 L502.50,226.49 L502.75,226.50 L503.00,226.50 L503.25,226.50 L503.50,226.50 L503.75,226.50 L504.00,226.50 L504.25,226.50 L504.50,226.50 L504.75,226.50 L505.00,226.50 L505.25,226.50 L505.50,226.50 L505.75,226.50 L506.00,226.50 L506.25,226.50 L506.50,226.50 L506.75,226.50 L507.00,226.50 L507.25,226.50 L507.50,226.50 L507.75,226.50 L508.00,226.50 L508.25,226.50 L508.50,226.50 L508.75,226.50 L509.00,226.50 L509.25,226.50 L509.50,226.50 L509.75,226.50 L510.00,226.50 L510.25,226.50 L510.50,226.50 L510.75,226.50 L511.00,226.50 L511.25,226.50 L511.50,226.50 L511.75,226.50 L512.00,226.50 L512.25,226.50 L512.50,226.50 L512.75,226.50 L513.00,226.50 L513.25,226.50 L513.50,226.50 L513.75,226.50 L514.00,226.50 L514.25,226.50 L514.50,226.50 L514.75,226.50 L515.00,226.50 L515.25,226.50 L515.50,226.50 L515.75,226.50 L516.00,226.50 L516.25,226.50 L516.50,226.50 L516.75,226.50 L517.00,226.50 L517.25,226.50 L517.50,226.50 L517.75,226.50 L518.00,226.50 L518.25,226.50 L518.50,226.50 L518.75,226.50 L519.00,226.50 L519.25,226.50 L519.50,226.50 L519.75,226.50 L520.00,226.50 L520.25,226.50 L520.50,226.50 L520.75,226.50 L521.00,226.50 L521.25,226.50 L521.50,226.50 L521.75,226.49 L522.00,226.49 L522.25,226.49 L522.50,226.49 L522.75,226.48 L523.00,226.48 L523.25,226.47 L523.50,226.46 L523.75,226.46 L524.00,226.45 L524.25,226.43 L524.50,226.42 L524.75,226.41 L525.00,226.39 L525.25,226.37 L525.50,226.35 L525.75,226.33 L526.00,226.31 L526.25,226.28 L526.50,226.26 L526.75,226.23 L527.00,226.21 L527.25,226.19 L527.50,226.17 L527.75,226.15 L528.00,226.13 L528.25,226.12 L528.50,226.11 L528.75,226.10 L529.00,226.10 L529.25,226.10 L529.50,226.11 L529.75,226.12 L530.00,226.13 L530.25,226.15 L530.50,226.17 L530.75,226.19 L531.00,226.21 L531.25,226.23 L531.50,226.26 L531.75,226.28 L532.00,226.31 L532.25,226.33 L532.50,226.35 L532.75,226.37 L533.00,226.39 L533.25,226.41 L533.50,226.42 L533.75,226.43 L534.00,226.45 L534.25,226.46 L534.50,226.46 L534.75,226.47 L535.00,226.48 L535.25,226.48 L535.50,226.49 L535.75,226.49 L536.00,226.49 L536.25,226.49 L536.50,226.50 L536.75,226.50 L537.00,226.50 L537.25,226.50 L537.50,226.50 L537.75,226.50 L538.00,226.50 L538.25,226.50 L538.50,226.50 L538.75,226.50 L539.00,226.50 L539.25,226.50 L539.50,226.50 L539.75,226.50 L540.00,226.50 L540.25,226.50 L540.50,226.50 L540.75,226.50 L541.00,226.50 L541.25,226.50 L541.50,226.50 L541.75,226.50 L542.00,226.50 L542.25,226.50 L542.50,226.50 L542.75,226.50 L543.00,226.50 L543.25,226.50 L543.50,226.50 L543.75,226.50 L544.00,226.50 L544.25,226.50 L544.50,226.50 L544.75,226.50 L545.00,226.50 L545.25,226.70 L545.50,226.70 L545.75,226.70 L546.00,226.70 L546.25,226.70 L546.50,226.70 L546.75,226.70 L547.00,226.70 L547.25,226.70 L547.50,226.70 L547.75,226.70 L548.00,226.70 L548.25,226.70 L548.50,226.70 L548.75,226.70 L549.00,226.70 L549.25,226.70 L549.50,226.70 L549.75,226.70 L550.00,226.69 L550.25,226.69 L550.50,226.68 L550.75,226.67 L551.00,226.65 L551.25,226.62 L551.50,226.58 L551.75,226.53 L552.00,226.46 L552.25,226.37 L552.50,226.25 L552.75,226.11 L553.00,225.93 L553.25,225.73 L553.50,225.49 L553.75,225.23 L554.00,224.95 L554.25,224.65 L554.50,224.36 L554.75,224.07 L555.00,223.80 L555.25,223.57 L555.50,223.38 L555.75,223.23 L556.00,223.14 L556.25,223.10 L556.50,223.12 L556.75,223.18 L557.00,223.29 L557.25,223.44 L557.50,223.61 L557.75,223.80 L558.00,224.01 L558.25,224.22 L558.50,224.42 L558.75,224.62 L559.00,224.82 L559.25,225.00 L559.50,225.16 L559.75,225.32 L560.00,225.46 L560.25,225.59 L560.50,225.70 L560.75,225.81 L561.00,225.90 L561.25,225.98 L561.50,226.06 L561.75,226.13 L562.00,226.19 L562.25,226.24 L562.50,226.29 L562.75,226.33 L563.00,226.37 L563.25,226.41 L563.50,226.44 L563.75,226.46 L564.00,226.49 L564.25,226.51 L564.50,226.53 L564.75,226.55 L565.00,226.56 L565.25,226.58 L565.50,226.59 L565.75,226.60 L566.00,226.61 L566.25,226.62 L566.50,226.63 L566.75,226.64 L567.00,226.64 L567.25,226.65 L567.50,226.66 L567.75,226.66 L568.00,226.66 L568.25,226.67 L568.50,226.67 L568.75,226.67 L569.00,226.68 L569.25,226.68 L569.50,226.68 L569.75,226.68 L570.00,226.69 L570.25,226.69 L570.50,226.69 L570.75,226.69 L571.00,226.69 L571.25,226.69 L571.50,226.69 L571.75,226.69 L572.00,226.69 L572.25,226.69 L572.50,226.70 L572.75,226.70 L573.00,226.70 L573.25,226.70 L573.50,226.70 L573.75,226.70 L574.00,226.70 L574.25,226.70 L574.50,226.70 L574.75,226.70 L575.00,226.70 L575.25,226.70 L575.50,226.70 L575.75,226.70 L576.00,226.70 L576.25,226.70 L576.50,226.70 L576.75,226.70 L577.00,226.70 L577.25,226.70 L577.50,226.70 L577.75,226.70 L578.00,226.70 L578.25,226.70 L578.50,226.70 L578.75,226.70 L579.00,226.70 L579.25,226.70 L579.50,226.70 L579.75,226.70 L580.00,226.70 L580.25,226.70 L580.50,226.70 L580.75,226.70 L581.00,226.70 L581.25,226.70 L581.50,226.70 L581.75,226.70 L582.00,226.70 L582.25,226.70 L582.50,226.70 L582.75,226.70 L583.00,226.70 L583.25,226.70 L583.50,226.70 L583.75,226.70 L584.00,226.70 L584.25,226.70 L584.50,226.70 L584.75,226.70 L585.00,226.70 L585.25,226.70 L585.50,226.70 L585.75,226.70 L586.00,226.50 L586.25,226.50 L586.50,226.50 L586.75,226.50 L587.00,226.50 L587.25,226.50 L587.50,226.50 L587.75,226.50 L588.00,226.50 L588.25,226.50 L588.50,226.50 L588.75,226.50 L589.00,226.50 L589.25,226.50 L589.50,226.50 L589.75,226.50 L590.00,226.50 L590.25,226.50 L590.50,226.50 L590.75,226.48 L591.00,226.42 L591.25,226.33 L591.50,226.20 L591.75,225.79 L592.00,224.88 L592.25,223.52 L592.50,220.39 L592.75,215.60 L593.00,210.89 L593.25,206.94 L593.50,203.61 L593.75,201.07 L594.00,199.07 L594.25,197.22 L594.50,195.63 L594.75,194.69 L595.00,194.01 L595.25,193.80 L595.50,193.94 L595.75,194.21 L596.00,194.55 L596.25,195.07 L596.50,195.77 L596.75,196.60 L597.00,197.50 L597.25,198.57 L597.50,199.88 L597.75,201.36 L598.00,202.91 L598.25,204.45 L598.50,205.88 L598.75,207.13 L599.00,208.26 L599.25,209.33 L599.50,210.35 L599.75,211.34 L600.00,212.30 L600.25,213.26 L600.50,214.19 L600.75,215.08 L601.00,215.90 L601.25,216.63 L601.50,217.31 L601.75,217.95 L602.00,218.54 L602.25,219.09 L602.50,219.60 L602.75,220.07 L603.00,220.50 L603.25,220.91 L603.50,221.29 L603.75,221.66 L604.00,222.00 L604.25,222.34 L604.50,222.67 L604.75,223.00 L605.00,223.31 L605.25,223.61 L605.50,223.87 L605.75,224.11 L606.00,224.30 L606.25,224.47 L606.50,224.62 L606.75,224.77 L607.00,224.90 L607.25,225.02 L607.50,225.14 L607.75,225.25 L608.00,225.35 L608.25,225.44 L608.50,225.53 L608.75,225.62 L609.00,225.70 L609.25,225.79 L609.50,225.87 L609.75,225.95 L610.00,226.04 L610.25,226.12 L610.50,226.19 L610.75,226.26 L611.00,226.33 L611.25,226.39 L611.50,226.45 L611.75,226.50 L612.00,226.54 L612.25,226.57 L612.50,226.59 L612.75,226.60 L613.00,226.61 L613.25,226.62 L613.50,226.63 L613.75,226.63 L614.00,226.64 L614.25,226.65 L614.50,226.66 L614.75,226.66 L615.00,226.67 L615.25,226.67 L615.50,226.68 L615.75,226.68 L616.00,226.69 L616.25,226.69 L616.50,226.69 L616.75,226.69 L617.00,226.70 L617.25,226.70 L617.50,226.70 L617.75,226.70 L618.00,226.70 L618.25,226.70 L618.50,226.70 L618.75,226.70 L619.00,226.70 L619.25,226.70 L619.50,226.70 L619.75,226.70 L620.00,226.70 L620.25,226.70 L620.50,226.70 L620.75,226.70 L621.00,226.70 L621.25,226.70 L621.50,226.70 L621.75,226.70 L622.00,226.70 L622.25,226.70 L622.50,226.70 L622.75,226.70 L623.00,226.70 L623.25,226.70 L623.50,226.70 L623.75,226.70 L624.00,226.70 L624.25,226.70 L624.50,226.70 L624.75,226.70 L625.00,226.70 L625.25,226.70 L625.50,226.70 L625.75,226.70 L626.00,226.70 L626.25,226.70 L626.50,226.70 L626.75,226.70 L627.00,226.70 L627.25,226.70 L627.50,226.70 L627.75,226.70 L628.00,226.70 L628.25,226.70 L628.50,226.70 L628.75,226.70 L629.00,226.70 L629.25,226.70 L629.50,226.70 L629.75,226.70 L630.00,226.70 L630.25,226.70 L630.50,226.70 L630.75,226.70 L631.00,226.70 L631.25,226.70 L631.50,226.70 L631.75,226.70 L632.00,226.70 L632.25,226.70 L632.50,226.70 L632.75,226.70 L633.00,226.70 L633.25,226.70 L633.50,226.70 L633.75,226.70 L634.00,226.70 L634.25,226.70 L634.50,226.70 L634.75,226.70 L635.00,226.70 L635.25,226.70 L635.50,226.70 L635.75,226.70 L636.00,226.70 L636.25,226.70 L636.50,226.70 L636.75,226.70 L637.00,226.70 L637.25,226.70 L637.50,226.70 L637.75,226.70 L638.00,226.70 L638.25,226.70 L638.50,226.70 L638.75,226.70 L639.00,226.70 L639.25,226.70 L639.50,226.70 L639.75,226.70 L640.00,226.70 L640.25,226.70 L640.50,226.70 L640.75,226.70 L641.00,226.70 L641.25,226.70 L641.50,226.70 L641.75,226.70 L642.00,226.70 L642.25,226.70 L642.50,226.70 L642.75,226.70 L643.00,226.70 L643.25,226.70 L643.50,226.70 L643.75,226.70 L644.00,226.70 L644.25,226.70 L644.50,226.70 L644.75,226.70 L645.00,226.70 L645.25,226.70 L645.50,226.70 L645.75,226.70 L646.00,226.70 L646.25,226.70 L646.50,226.70 L646.75,226.70 L647.00,226.70 L647.25,226.70 L647.50,226.70 L647.75,226.70 L648.00,226.70 L648.25,226.70 L648.50,226.70 L648.75,226.70 L649.00,226.70 L649.25,226.70 L649.50,226.70 L649.75,226.70 L650.00,226.70 L650.25,226.70 L650.50,226.70 L650.75,226.70 L651.00,226.70 L651.25,226.70 L651.50,226.70 L651.75,226.70 L652.00,226.70 L652.25,226.70 L652.50,226.70 L652.75,226.70 L653.00,226.70 L653.25,226.70 L653.50,226.70 L653.75,226.70 L654.00,226.70 L654.25,226.70 L654.50,226.70 L654.75,226.70 L655.00,226.70 L655.25,226.70 L655.50,226.70 L655.75,226.70 L656.00,226.70 L656.25,226.70 L656.50,226.70 L656.75,226.70 L657.00,226.70 L657.25,226.70 L657.50,226.70 L657.75,226.70 L658.00,226.70 L658.25,226.70 L658.50,226.70 L658.75,226.70 L659.00,226.70 L659.25,226.70 L659.50,226.70 L659.75,226.70 L660.00,226.70 L660.25,226.70 L660.50,226.70 L660.75,226.70 L661.00,226.70 L661.25,226.70 L661.50,226.70 L661.75,226.70 L662.00,226.70 L662.25,226.70 L662.50,226.70 L662.75,226.70 L663.00,226.70 L663.25,226.70 L663.50,226.70 L663.75,226.70 L664.00,226.70 L664.25,226.70 L664.50,226.70 L664.75,226.70 L665.00,226.70 L665.25,226.70 L665.50,226.70 L665.75,226.70 L666.00,226.70 L666.25,226.70 L666.50,226.70 L666.75,226.70 L667.00,226.70 L667.25,226.70 L667.50,226.70 L667.75,226.70 L668.00,226.70 L668.25,226.70 L668.50,226.70 L668.75,226.70 L669.00,226.70 L669.25,226.70 L669.50,226.70 L669.75,226.70 L670.00,226.70 L670.25,226.70 L670.50,226.70 L670.75,226.70 L671.00,226.70 L671.25,226.70 L671.50,226.70 L671.75,226.70 L672.00,226.70 L672.25,226.70 L672.50,226.70 L672.75,226.70 L673.00,226.70 L673.25,226.70 L673.50,226.70 L673.75,226.70 L674.00,226.70 L674.25,226.70 L674.50,226.70 L674.75,226.70 L675.00,226.70 L675.25,226.70 L675.50,226.70 L675.75,226.70 L676.00,226.70 L676.25,226.70 L676.50,226.70 L676.75,226.70 L677.00,226.70 L677.25,226.70 L677.50,226.70 L677.75,226.70 L678.00,226.70 L678.25,226.70" fill="none" stroke="#262626" stroke-width="1.0" stroke-linejoin="round" stroke-linecap="round"/>
<path d="M443.1,114.8 L446.5,114.8 L446.9,140 L447.2,167 L447.5,200 L443.1,200 Z" fill="#999"/>
<text transform="matrix(0 -0.86516 0.87149 0 447.715 68.539)" font-family='"Liberation Sans", sans-serif' font-size="10" fill="#222" stroke="#222" stroke-width="0.138" stroke-linejoin="round">Caffeine</text>
<text transform="matrix(0 -0.86935 0.77243 0 501.497 225.095)" font-family='"Liberation Sans", sans-serif' font-size="10" fill="#222" stroke="#222" stroke-width="0.146" stroke-linejoin="round">Synephrine</text>
<text transform="matrix(0 -0.82000 1.00766 0 559.802 221.273)" font-family='"Liberation Sans", sans-serif' font-size="10" fill="#222" stroke="#222" stroke-width="0.131" stroke-linejoin="round">Hordenine</text>
<text transform="matrix(0 -0.85992 1.06208 0 598.396 192.132)" font-family='"Liberation Sans", sans-serif' font-size="10" fill="#222" stroke="#222" stroke-width="0.125" stroke-linejoin="round">2-Phenethylamine</text>
<text transform="matrix(0 -0.96942 1.14654 0 338.188 130.619)" font-family='"Liberation Sans", sans-serif' font-size="10" fill="#222" stroke="#222" stroke-width="0.331" stroke-linejoin="round">AU</text>
<text transform="matrix(1.13203 0 0 1.02128 501.071 266.600)" font-family='"Liberation Sans", sans-serif' font-size="10" fill="#222" stroke="#222" stroke-width="0.325" stroke-linejoin="round">Minutes</text>
<text transform="matrix(1.14740 0 0 1.10856 331.050 9.042)" font-family='"Liberation Serif", serif' font-size="10" fill="#111" stroke="#111" stroke-width="0.177" stroke-linejoin="round">b</text>
<rect x="485.5" y="14.5" width="185" height="87" fill="#fff"/>
<defs><clipPath id="ci"><rect x="485.5" y="14.5" width="185" height="87"/></clipPath></defs>
<path d="M485.70,84.20 L486.00,84.47 L486.30,84.13 L486.60,83.76 L486.90,84.13 L487.20,83.82 L487.50,84.61 L487.80,85.57 L488.10,84.35 L488.40,84.32 L488.70,85.16 L489.00,85.13 L489.30,85.02 L489.60,84.35 L489.90,85.05 L490.20,85.62 L490.50,84.25 L490.80,84.93 L491.10,83.98 L491.40,84.47 L491.70,84.15 L492.00,85.34 L492.30,84.66 L492.60,85.79 L492.90,85.76 L493.20,85.56 L493.50,83.98 L493.80,85.42 L494.10,85.81 L494.40,85.97 L494.70,84.87 L495.00,85.65 L495.30,85.35 L495.60,85.52 L495.90,86.88 L496.20,85.62 L496.50,86.21 L496.80,86.90 L497.10,85.92 L497.40,86.30 L497.70,86.50 L498.00,86.52 L498.30,85.67 L498.60,86.63 L498.90,87.57 L499.20,85.59 L499.50,87.32 L499.80,86.85 L500.10,86.38 L500.40,88.30 L500.70,87.51 L501.00,86.21 L501.30,87.18 L501.60,87.60 L501.90,87.14 L502.20,87.83 L502.50,87.38 L502.80,87.97 L503.10,88.58 L503.40,87.18 L503.70,87.87 L504.00,87.48 L504.30,87.96 L504.60,87.12 L504.90,87.62 L505.20,87.96 L505.50,88.80 L505.80,89.05 L506.10,87.43 L506.40,87.96 L506.70,89.14 L507.00,87.46 L507.30,88.69 L507.60,89.12 L507.90,90.23 L508.20,90.00 L508.50,89.45 L508.80,89.59 L509.10,89.84 L509.40,91.25 L509.70,90.05 L510.00,89.91 L510.30,89.94 L510.60,89.19 L510.90,88.71 L511.20,87.64 L511.50,88.00 L511.50,88.00 L511.80,86.80 L512.10,85.60 L512.40,84.40 L512.70,83.20 L513.00,82.00 L513.00,82.00 L513.30,79.73 L513.60,77.46 L513.70,76.70 L513.90,73.43 L514.20,68.53 L514.50,63.63 L514.60,62.00 L514.80,47.14 L515.10,24.86 L515.30,10.00 L515.40,9.78 L515.70,9.11 L516.00,8.44 L516.30,8.25 L516.60,9.00 L516.90,9.75 L517.00,10.00 L517.20,25.00 L517.40,40.00 L517.50,41.82 L517.80,47.27 L518.10,52.73 L518.40,58.18 L518.50,60.00 L518.70,65.00 L519.00,72.50 L519.30,80.00 L519.30,80.00 L519.60,95.00 L519.80,105.00 L519.90,105.63 L520.20,107.50 L520.50,109.56 L520.80,108.57 L521.10,106.43 L521.30,105.00 L521.40,96.00 L521.70,69.00 L521.80,60.00 L522.00,35.00 L522.20,10.00 L522.30,9.50 L522.60,8.00 L522.60,8.00 L522.90,14.00 L523.20,20.00 L523.20,20.00 L523.50,23.58 L523.80,27.15 L524.10,30.73 L524.40,34.31 L524.50,35.50 L524.70,38.10 L525.00,42.00 L525.30,45.90 L525.60,49.80 L525.90,53.70 L526.00,55.00 L526.20,56.59 L526.50,58.97 L526.80,61.35 L527.10,63.73 L527.40,66.11 L527.50,66.90 L527.70,67.55 L528.00,68.53 L528.30,69.51 L528.60,70.49 L528.90,71.04 L529.20,71.04 L529.50,69.90 L529.80,68.76 L530.00,68.00 L530.10,63.33 L530.40,49.33 L530.60,40.00 L530.70,32.50 L531.00,10.00 L531.00,10.00 L531.30,10.00 L531.60,10.00 L531.90,10.00 L532.20,10.00 L532.50,10.00 L532.80,10.00 L533.10,10.00 L533.40,10.00 L533.70,10.00 L534.00,10.00 L534.30,10.00 L534.60,10.00 L534.90,10.00 L534.90,10.00 L535.20,17.20 L535.40,22.00 L535.50,23.33 L535.80,27.33 L536.00,30.00 L536.10,30.97 L536.40,33.89 L536.70,36.80 L536.70,36.80 L537.00,38.00 L537.30,39.20 L537.50,40.00 L537.60,41.78 L537.90,47.13 L538.20,52.47 L538.50,57.82 L538.60,59.60 L538.80,61.29 L539.10,63.82 L539.40,66.36 L539.50,67.20 L539.70,67.60 L540.00,68.20 L540.30,68.80 L540.60,69.40 L540.90,70.00 L541.20,70.60 L541.50,72.02 L541.80,71.80 L542.10,72.40 L542.40,73.00 L542.40,73.00 L542.70,73.75 L543.00,74.50 L543.30,75.25 L543.60,76.00 L543.90,76.75 L544.20,77.50 L544.50,78.25 L544.80,79.00 L545.10,79.75 L545.40,80.50 L545.70,81.25 L546.00,82.60 L546.30,82.57 L546.60,81.41 L546.90,80.60 L547.20,79.79 L547.50,78.97 L547.80,78.16 L548.10,77.34 L548.40,76.53 L548.70,75.71 L549.00,74.90 L549.00,75.49 L549.30,76.31 L549.60,77.72 L549.90,79.12 L550.20,80.56 L550.50,80.01 L550.80,78.52 L551.10,77.04 L551.40,75.55 L551.70,74.06 L552.00,72.58 L552.30,71.09 L552.60,70.85 L552.90,73.11 L553.20,75.37 L553.50,77.63 L553.80,79.88 L554.10,82.14 L554.40,84.40 L554.40,84.40 L554.70,85.01 L555.00,85.63 L555.30,86.24 L555.60,86.85 L555.90,87.47 L556.20,88.08 L556.50,89.31 L556.80,88.90 L557.10,88.55 L557.40,87.14 L557.70,87.42 L558.00,87.86 L558.30,86.87 L558.60,86.58 L558.90,85.91 L559.20,86.52 L559.50,85.28 L559.80,83.67 L560.10,84.63 L560.40,83.64 L560.70,82.65 L561.00,84.46 L561.30,85.67 L561.60,84.68 L561.90,83.73 L562.20,83.80 L562.50,84.92 L562.80,83.30 L563.10,82.47 L563.40,81.65 L563.70,80.82 L564.00,80.00 L564.00,80.00 L564.30,77.81 L564.60,75.63 L564.90,76.18 L565.20,78.09 L565.50,80.00 L565.50,80.00 L565.80,81.46 L566.10,82.91 L566.20,83.40 L566.40,83.41 L566.70,83.67 L567.00,82.91 L567.30,85.21 L567.60,85.20 L567.90,84.01 L568.20,85.05 L568.50,84.94 L568.80,83.01 L569.10,85.18 L569.40,85.13 L569.70,85.39 L570.00,84.75 L570.30,85.24 L570.60,85.24 L570.90,86.13 L571.20,85.47 L571.50,85.16 L571.80,86.17 L572.10,84.64 L572.40,84.69 L572.70,83.63 L573.00,85.93 L573.30,85.44 L573.60,85.34 L573.90,85.10 L574.20,84.64 L574.50,84.65 L574.80,84.28 L575.10,84.27 L575.40,84.41 L575.70,85.39 L576.00,84.67 L576.30,84.20 L576.60,83.79 L576.90,83.71 L577.20,85.24 L577.50,84.43 L577.80,84.08 L578.10,83.69 L578.40,82.96 L578.70,83.49 L579.00,83.94 L579.30,82.86 L579.60,82.77 L579.90,82.58 L580.20,82.61 L580.50,81.22 L580.80,81.97 L581.10,81.27 L581.40,82.10 L581.70,80.55 L582.00,81.10 L582.30,81.38 L582.60,79.70 L582.90,79.11 L583.20,79.84 L583.50,80.17 L583.80,79.93 L584.10,81.41 L584.40,82.96 L584.70,81.83 L585.00,82.32 L585.30,82.20 L585.60,83.61 L585.90,82.97 L586.20,83.30 L586.50,85.08 L586.80,83.67 L587.10,85.17 L587.40,85.59 L587.70,84.82 L588.00,85.14 L588.30,86.23 L588.60,84.84 L588.90,84.67 L589.20,84.25 L589.50,85.34 L589.80,86.46 L590.10,86.20 L590.40,84.95 L590.70,85.09 L591.00,85.41 L591.30,86.05 L591.60,85.78 L591.90,86.16 L592.20,86.30 L592.50,85.96 L592.80,86.22 L593.10,86.47 L593.40,86.35 L593.70,86.84 L594.00,87.88 L594.30,87.07 L594.60,86.77 L594.90,85.63 L595.20,87.16 L595.50,86.97 L595.60,87.00 L595.80,78.00 L596.10,64.50 L596.20,60.00 L596.40,40.00 L596.70,10.00 L596.70,10.00 L597.00,10.00 L597.30,10.00 L597.60,10.00 L597.90,10.00 L598.20,10.00 L598.50,10.00 L598.80,10.00 L599.10,10.00 L599.30,10.00 L599.40,14.29 L599.70,27.14 L600.00,40.00 L600.00,40.00 L600.30,47.50 L600.60,55.00 L600.90,62.50 L601.00,65.00 L601.20,66.92 L601.50,69.80 L601.80,72.68 L602.10,75.56 L602.40,78.44 L602.50,79.40 L602.70,80.32 L603.00,81.70 L603.30,83.08 L603.50,84.00 L603.60,84.33 L603.90,85.33 L604.20,86.33 L604.50,87.33 L604.70,88.00 L604.80,88.27 L605.10,89.08 L605.40,89.88 L605.70,90.69 L606.00,91.50 L606.00,91.77 L606.30,91.26 L606.60,92.27 L606.90,91.72 L607.20,90.75 L607.50,90.97 L607.80,92.21 L608.10,92.00 L608.40,90.37 L608.70,92.67 L609.00,92.17 L609.30,92.72 L609.60,91.53 L609.90,91.62 L610.20,91.06 L610.50,93.65 L610.80,91.78 L611.10,93.04 L611.40,91.50 L611.70,92.09 L612.00,90.83 L612.30,91.73 L612.60,92.69 L612.90,91.12 L613.20,92.75 L613.50,92.24 L613.80,91.27 L614.10,91.65 L614.40,91.68 L614.70,91.97 L615.00,91.62 L615.30,91.42 L615.60,91.79 L615.90,91.28 L616.20,91.10 L616.50,91.97 L616.80,92.62 L617.10,90.93 L617.40,92.00 L617.70,91.55 L618.00,91.32 L618.30,92.60 L618.60,92.00 L618.80,92.00 L618.90,87.60 L619.20,74.40 L619.30,70.00 L619.50,10.00 L619.50,10.00 L619.80,10.00 L620.10,10.00 L620.40,10.00 L620.70,10.00 L621.00,10.00 L621.30,10.00 L621.60,10.00 L621.90,10.00 L622.20,10.00 L622.50,10.00 L622.80,10.00 L623.10,10.00 L623.40,10.00 L623.70,10.00 L624.00,10.00 L624.30,10.00 L624.60,10.00 L624.90,10.00 L625.20,10.00 L625.50,10.00 L625.80,10.00 L626.10,10.00 L626.40,10.00 L626.70,10.00 L627.00,10.00 L627.30,10.00 L627.50,10.00 L627.60,14.29 L627.90,27.14 L628.20,40.00 L628.20,40.00 L628.50,47.00 L628.80,54.00 L629.10,61.00 L629.40,68.00 L629.70,75.00 L629.70,75.00 L630.00,76.38 L630.30,77.77 L630.60,79.15 L630.90,80.54 L631.00,81.00 L631.20,81.40 L631.50,82.00 L631.80,82.60 L632.10,83.20 L632.40,83.80 L632.70,84.97 L633.00,84.16 L633.30,83.95 L633.60,84.77 L633.90,86.08 L634.20,83.23 L634.50,85.66 L634.80,84.64 L635.10,86.21 L635.40,84.82 L635.70,85.47 L636.00,84.71 L636.30,85.17 L636.60,86.92 L636.90,86.61 L637.20,85.85 L637.50,85.62 L637.80,84.99 L638.10,86.14 L638.40,86.48 L638.70,86.54 L639.00,86.62 L639.30,86.00 L639.60,86.83 L639.90,86.94 L640.20,87.95 L640.50,88.43 L640.80,87.10 L641.10,86.74 L641.40,87.30 L641.70,87.00 L642.00,86.98 L642.30,87.53 L642.60,86.92 L642.90,88.15 L643.20,87.73 L643.50,88.05 L643.80,87.82 L644.10,87.52 L644.40,87.44 L644.70,88.01 L645.00,87.87 L645.30,88.49 L645.60,88.40 L645.90,87.52 L646.20,88.59 L646.50,87.66 L646.80,88.23 L647.10,88.52 L647.40,87.33 L647.70,88.91 L648.00,89.01 L648.30,88.86 L648.60,88.73 L648.90,88.83 L649.20,88.47 L649.50,89.02 L649.80,88.89 L650.10,89.40 L650.40,88.55 L650.70,89.62 L651.00,89.62 L651.30,89.48 L651.60,89.33 L651.90,90.09 L652.20,88.59 L652.50,90.15 L652.80,90.09 L653.10,90.21 L653.40,90.37 L653.70,89.74 L654.00,90.10 L654.30,90.82 L654.60,90.77 L654.90,90.70 L655.20,89.59 L655.50,91.12 L655.80,91.65 L656.10,91.63 L656.40,91.18 L656.70,90.01 L657.00,91.86 L657.30,91.18 L657.60,89.61 L657.90,91.73 L658.20,90.57 L658.50,90.88 L658.80,91.52 L659.10,93.03 L659.40,92.06 L659.70,92.68 L660.00,93.89 L660.30,93.96 L660.60,92.95 L660.90,93.03 L661.20,92.49 L661.50,93.06 L661.80,94.02 L662.10,94.18 L662.40,94.15 L662.70,94.95 L663.00,93.88 L663.30,94.56 L663.60,94.98 L663.90,94.75 L664.20,94.96 L664.50,94.36 L664.80,93.73 L665.10,94.08 L665.40,92.99 L665.70,92.41 L666.00,93.84 L666.30,93.26 L666.60,93.39 L666.90,91.85 L667.20,92.71 L667.50,92.50 L667.80,92.27 L668.10,91.24 L668.40,92.54 L668.70,93.35 L669.00,92.94 L669.30,92.21 L669.60,92.57 L669.90,93.06 L670.20,90.55 L670.50,92.35" fill="none" stroke="#1a1a1a" stroke-width="0.95" stroke-linejoin="round" stroke-linecap="round" clip-path="url(#ci)"/>
<line x1="485.50" y1="14.50" x2="670.50" y2="14.50" stroke="#3a3a3a" stroke-width="0.9"/>
<line x1="670.50" y1="14.50" x2="670.50" y2="101.50" stroke="#3a3a3a" stroke-width="0.9"/>
<line x1="485.50" y1="14.50" x2="485.50" y2="101.50" stroke="#3a3a3a" stroke-width="0.9"/>
<line x1="485.50" y1="101.50" x2="670.50" y2="101.50" stroke="#3a3a3a" stroke-width="0.9"/>
<line x1="484.50" y1="101.30" x2="485.50" y2="101.30" stroke="#444" stroke-width="0.9"/>
<line x1="484.50" y1="97.82" x2="485.50" y2="97.82" stroke="#444" stroke-width="0.9"/>
<line x1="484.50" y1="94.34" x2="485.50" y2="94.34" stroke="#444" stroke-width="0.9"/>
<line x1="484.50" y1="90.86" x2="485.50" y2="90.86" stroke="#444" stroke-width="0.9"/>
<line x1="484.50" y1="87.38" x2="485.50" y2="87.38" stroke="#444" stroke-width="0.9"/>
<line x1="484.50" y1="83.90" x2="485.50" y2="83.90" stroke="#444" stroke-width="0.9"/>
<line x1="484.50" y1="80.42" x2="485.50" y2="80.42" stroke="#444" stroke-width="0.9"/>
<line x1="484.50" y1="76.94" x2="485.50" y2="76.94" stroke="#444" stroke-width="0.9"/>
<line x1="484.50" y1="73.46" x2="485.50" y2="73.46" stroke="#444" stroke-width="0.9"/>
<line x1="484.50" y1="69.98" x2="485.50" y2="69.98" stroke="#444" stroke-width="0.9"/>
<line x1="484.50" y1="66.50" x2="485.50" y2="66.50" stroke="#444" stroke-width="0.9"/>
<line x1="484.50" y1="63.02" x2="485.50" y2="63.02" stroke="#444" stroke-width="0.9"/>
<line x1="484.50" y1="59.54" x2="485.50" y2="59.54" stroke="#444" stroke-width="0.9"/>
<line x1="484.50" y1="56.06" x2="485.50" y2="56.06" stroke="#444" stroke-width="0.9"/>
<line x1="484.50" y1="52.58" x2="485.50" y2="52.58" stroke="#444" stroke-width="0.9"/>
<line x1="484.50" y1="49.10" x2="485.50" y2="49.10" stroke="#444" stroke-width="0.9"/>
<line x1="484.50" y1="45.62" x2="485.50" y2="45.62" stroke="#444" stroke-width="0.9"/>
<line x1="484.50" y1="42.14" x2="485.50" y2="42.14" stroke="#444" stroke-width="0.9"/>
<line x1="484.50" y1="38.66" x2="485.50" y2="38.66" stroke="#444" stroke-width="0.9"/>
<line x1="484.50" y1="35.18" x2="485.50" y2="35.18" stroke="#444" stroke-width="0.9"/>
<line x1="484.50" y1="31.70" x2="485.50" y2="31.70" stroke="#444" stroke-width="0.9"/>
<line x1="484.50" y1="28.22" x2="485.50" y2="28.22" stroke="#444" stroke-width="0.9"/>
<line x1="484.50" y1="24.74" x2="485.50" y2="24.74" stroke="#444" stroke-width="0.9"/>
<line x1="484.50" y1="21.26" x2="485.50" y2="21.26" stroke="#444" stroke-width="0.9"/>
<line x1="484.50" y1="17.78" x2="485.50" y2="17.78" stroke="#444" stroke-width="0.9"/>
<line x1="483.10" y1="101.30" x2="485.50" y2="101.30" stroke="#444" stroke-width="0.9"/>
<line x1="483.10" y1="83.90" x2="485.50" y2="83.90" stroke="#444" stroke-width="0.9"/>
<line x1="483.10" y1="66.50" x2="485.50" y2="66.50" stroke="#444" stroke-width="0.9"/>
<line x1="483.10" y1="49.10" x2="485.50" y2="49.10" stroke="#444" stroke-width="0.9"/>
<line x1="483.10" y1="31.70" x2="485.50" y2="31.70" stroke="#444" stroke-width="0.9"/>
<line x1="483.10" y1="14.30" x2="485.50" y2="14.30" stroke="#444" stroke-width="0.9"/>
<line x1="485.40" y1="101.50" x2="485.40" y2="102.70" stroke="#444" stroke-width="0.9"/>
<line x1="492.59" y1="101.50" x2="492.59" y2="102.70" stroke="#444" stroke-width="0.9"/>
<line x1="499.78" y1="101.50" x2="499.78" y2="102.70" stroke="#444" stroke-width="0.9"/>
<line x1="506.97" y1="101.50" x2="506.97" y2="102.70" stroke="#444" stroke-width="0.9"/>
<line x1="514.16" y1="101.50" x2="514.16" y2="102.70" stroke="#444" stroke-width="0.9"/>
<line x1="521.35" y1="101.50" x2="521.35" y2="102.70" stroke="#444" stroke-width="0.9"/>
<line x1="528.54" y1="101.50" x2="528.54" y2="102.70" stroke="#444" stroke-width="0.9"/>
<line x1="535.73" y1="101.50" x2="535.73" y2="102.70" stroke="#444" stroke-width="0.9"/>
<line x1="542.92" y1="101.50" x2="542.92" y2="102.70" stroke="#444" stroke-width="0.9"/>
<line x1="550.11" y1="101.50" x2="550.11" y2="102.70" stroke="#444" stroke-width="0.9"/>
<line x1="557.30" y1="101.50" x2="557.30" y2="102.70" stroke="#444" stroke-width="0.9"/>
<line x1="564.49" y1="101.50" x2="564.49" y2="102.70" stroke="#444" stroke-width="0.9"/>
<line x1="571.68" y1="101.50" x2="571.68" y2="102.70" stroke="#444" stroke-width="0.9"/>
<line x1="578.87" y1="101.50" x2="578.87" y2="102.70" stroke="#444" stroke-width="0.9"/>
<line x1="586.06" y1="101.50" x2="586.06" y2="102.70" stroke="#444" stroke-width="0.9"/>
<line x1="593.25" y1="101.50" x2="593.25" y2="102.70" stroke="#444" stroke-width="0.9"/>
<line x1="600.44" y1="101.50" x2="600.44" y2="102.70" stroke="#444" stroke-width="0.9"/>
<line x1="607.63" y1="101.50" x2="607.63" y2="102.70" stroke="#444" stroke-width="0.9"/>
<line x1="614.82" y1="101.50" x2="614.82" y2="102.70" stroke="#444" stroke-width="0.9"/>
<line x1="622.01" y1="101.50" x2="622.01" y2="102.70" stroke="#444" stroke-width="0.9"/>
<line x1="629.20" y1="101.50" x2="629.20" y2="102.70" stroke="#444" stroke-width="0.9"/>
<line x1="636.39" y1="101.50" x2="636.39" y2="102.70" stroke="#444" stroke-width="0.9"/>
<line x1="643.58" y1="101.50" x2="643.58" y2="102.70" stroke="#444" stroke-width="0.9"/>
<line x1="650.77" y1="101.50" x2="650.77" y2="102.70" stroke="#444" stroke-width="0.9"/>
<line x1="657.96" y1="101.50" x2="657.96" y2="102.70" stroke="#444" stroke-width="0.9"/>
<line x1="665.15" y1="101.50" x2="665.15" y2="102.70" stroke="#444" stroke-width="0.9"/>
<line x1="485.40" y1="101.50" x2="485.40" y2="103.80" stroke="#444" stroke-width="0.9"/>
<line x1="514.16" y1="101.50" x2="514.16" y2="103.80" stroke="#444" stroke-width="0.9"/>
<line x1="542.92" y1="101.50" x2="542.92" y2="103.80" stroke="#444" stroke-width="0.9"/>
<line x1="571.68" y1="101.50" x2="571.68" y2="103.80" stroke="#444" stroke-width="0.9"/>
<line x1="600.44" y1="101.50" x2="600.44" y2="103.80" stroke="#444" stroke-width="0.9"/>
<line x1="629.20" y1="101.50" x2="629.20" y2="103.80" stroke="#444" stroke-width="0.9"/>
<line x1="657.96" y1="101.50" x2="657.96" y2="103.80" stroke="#444" stroke-width="0.9"/>
<text transform="matrix(0.49300 0 0 0.48022 469.062 102.953)" font-family='"Liberation Sans", sans-serif' font-size="10" fill="#262626" stroke="#262626" stroke-width="0.617" stroke-linejoin="round">-0.001</text>
<text transform="matrix(0.49300 0 0 0.48022 470.656 85.553)" font-family='"Liberation Sans", sans-serif' font-size="10" fill="#262626" stroke="#262626" stroke-width="0.617" stroke-linejoin="round">0.000</text>
<text transform="matrix(0.49300 0 0 0.48022 470.704 68.153)" font-family='"Liberation Sans", sans-serif' font-size="10" fill="#262626" stroke="#262626" stroke-width="0.617" stroke-linejoin="round">0.001</text>
<text transform="matrix(0.49300 0 0 0.48022 470.711 50.753)" font-family='"Liberation Sans", sans-serif' font-size="10" fill="#262626" stroke="#262626" stroke-width="0.617" stroke-linejoin="round">0.002</text>
<text transform="matrix(0.49300 0 0 0.48022 470.680 33.353)" font-family='"Liberation Sans", sans-serif' font-size="10" fill="#262626" stroke="#262626" stroke-width="0.617" stroke-linejoin="round">0.003</text>
<text transform="matrix(0.49300 0 0 0.48022 470.607 15.953)" font-family='"Liberation Sans", sans-serif' font-size="10" fill="#262626" stroke="#262626" stroke-width="0.617" stroke-linejoin="round">0.004</text>
<text transform="matrix(0.51712 0 0 0.48022 480.368 108.653)" font-family='"Liberation Sans", sans-serif' font-size="10" fill="#262626" stroke="#262626" stroke-width="0.602" stroke-linejoin="round">0.00</text>
<text transform="matrix(0.51712 0 0 0.48022 509.099 108.653)" font-family='"Liberation Sans", sans-serif' font-size="10" fill="#262626" stroke="#262626" stroke-width="0.602" stroke-linejoin="round">2.00</text>
<text transform="matrix(0.51712 0 0 0.48022 537.929 108.653)" font-family='"Liberation Sans", sans-serif' font-size="10" fill="#262626" stroke="#262626" stroke-width="0.602" stroke-linejoin="round">4.00</text>
<text transform="matrix(0.51712 0 0 0.48022 566.617 108.653)" font-family='"Liberation Sans", sans-serif' font-size="10" fill="#262626" stroke="#262626" stroke-width="0.602" stroke-linejoin="round">6.00</text>
<text transform="matrix(0.51712 0 0 0.48022 595.396 108.653)" font-family='"Liberation Sans", sans-serif' font-size="10" fill="#262626" stroke="#262626" stroke-width="0.602" stroke-linejoin="round">8.00</text>
<text transform="matrix(0.51712 0 0 0.48022 622.634 108.653)" font-family='"Liberation Sans", sans-serif' font-size="10" fill="#262626" stroke="#262626" stroke-width="0.602" stroke-linejoin="round">10.00</text>
<text transform="matrix(0.51712 0 0 0.48022 651.394 108.653)" font-family='"Liberation Sans", sans-serif' font-size="10" fill="#262626" stroke="#262626" stroke-width="0.602" stroke-linejoin="round">12.00</text>
<text transform="matrix(0 -0.54536 0.45058 0 566.465 72.448)" font-family='"Liberation Sans", sans-serif' font-size="10" fill="#222" stroke="#222" stroke-width="0.241" stroke-linejoin="round">Synephrine</text>
<text transform="matrix(0 -0.41220 0.47295 0 466.454 60.508)" font-family='"Liberation Sans", sans-serif' font-size="10" fill="#222" stroke="#222" stroke-width="0.452" stroke-linejoin="round">AU</text>
<text transform="matrix(0.49360 0 0 0.44936 568.895 114.756)" font-family='"Liberation Sans", sans-serif' font-size="10" fill="#222" stroke="#222" stroke-width="0.318" stroke-linejoin="round">Minutes</text>
<line x1="38.30" y1="251.00" x2="314.50" y2="251.00" stroke="#3a3a3a" stroke-width="1.0"/>
<line x1="314.50" y1="251.00" x2="314.50" y2="459.50" stroke="#3a3a3a" stroke-width="1.0"/>
<line x1="38.30" y1="251.00" x2="38.30" y2="459.50" stroke="#3a3a3a" stroke-width="1.0"/>
<line x1="38.30" y1="459.50" x2="314.50" y2="459.50" stroke="#3a3a3a" stroke-width="1.0"/>
<line x1="36.80" y1="457.05" x2="38.30" y2="457.05" stroke="#444" stroke-width="0.9"/>
<line x1="36.80" y1="453.50" x2="38.30" y2="453.50" stroke="#444" stroke-width="0.9"/>
<line x1="36.80" y1="449.95" x2="38.30" y2="449.95" stroke="#444" stroke-width="0.9"/>
<line x1="36.80" y1="446.40" x2="38.30" y2="446.40" stroke="#444" stroke-width="0.9"/>
<line x1="36.80" y1="442.85" x2="38.30" y2="442.85" stroke="#444" stroke-width="0.9"/>
<line x1="36.80" y1="439.30" x2="38.30" y2="439.30" stroke="#444" stroke-width="0.9"/>
<line x1="36.80" y1="435.75" x2="38.30" y2="435.75" stroke="#444" stroke-width="0.9"/>
<line x1="36.80" y1="432.20" x2="38.30" y2="432.20" stroke="#444" stroke-width="0.9"/>
<line x1="36.80" y1="428.65" x2="38.30" y2="428.65" stroke="#444" stroke-width="0.9"/>
<line x1="36.80" y1="425.10" x2="38.30" y2="425.10" stroke="#444" stroke-width="0.9"/>
<line x1="36.80" y1="421.55" x2="38.30" y2="421.55" stroke="#444" stroke-width="0.9"/>
<line x1="36.80" y1="418.00" x2="38.30" y2="418.00" stroke="#444" stroke-width="0.9"/>
<line x1="36.80" y1="414.45" x2="38.30" y2="414.45" stroke="#444" stroke-width="0.9"/>
<line x1="36.80" y1="410.90" x2="38.30" y2="410.90" stroke="#444" stroke-width="0.9"/>
<line x1="36.80" y1="407.35" x2="38.30" y2="407.35" stroke="#444" stroke-width="0.9"/>
<line x1="36.80" y1="403.80" x2="38.30" y2="403.80" stroke="#444" stroke-width="0.9"/>
<line x1="36.80" y1="400.25" x2="38.30" y2="400.25" stroke="#444" stroke-width="0.9"/>
<line x1="36.80" y1="396.70" x2="38.30" y2="396.70" stroke="#444" stroke-width="0.9"/>
<line x1="36.80" y1="393.15" x2="38.30" y2="393.15" stroke="#444" stroke-width="0.9"/>
<line x1="36.80" y1="389.60" x2="38.30" y2="389.60" stroke="#444" stroke-width="0.9"/>
<line x1="36.80" y1="386.05" x2="38.30" y2="386.05" stroke="#444" stroke-width="0.9"/>
<line x1="36.80" y1="382.50" x2="38.30" y2="382.50" stroke="#444" stroke-width="0.9"/>
<line x1="36.80" y1="378.95" x2="38.30" y2="378.95" stroke="#444" stroke-width="0.9"/>
<line x1="36.80" y1="375.40" x2="38.30" y2="375.40" stroke="#444" stroke-width="0.9"/>
<line x1="36.80" y1="371.85" x2="38.30" y2="371.85" stroke="#444" stroke-width="0.9"/>
<line x1="36.80" y1="368.30" x2="38.30" y2="368.30" stroke="#444" stroke-width="0.9"/>
<line x1="36.80" y1="364.75" x2="38.30" y2="364.75" stroke="#444" stroke-width="0.9"/>
<line x1="36.80" y1="361.20" x2="38.30" y2="361.20" stroke="#444" stroke-width="0.9"/>
<line x1="36.80" y1="357.65" x2="38.30" y2="357.65" stroke="#444" stroke-width="0.9"/>
<line x1="36.80" y1="354.10" x2="38.30" y2="354.10" stroke="#444" stroke-width="0.9"/>
<line x1="36.80" y1="350.55" x2="38.30" y2="350.55" stroke="#444" stroke-width="0.9"/>
<line x1="36.80" y1="347.00" x2="38.30" y2="347.00" stroke="#444" stroke-width="0.9"/>
<line x1="36.80" y1="343.45" x2="38.30" y2="343.45" stroke="#444" stroke-width="0.9"/>
<line x1="36.80" y1="339.90" x2="38.30" y2="339.90" stroke="#444" stroke-width="0.9"/>
<line x1="36.80" y1="336.35" x2="38.30" y2="336.35" stroke="#444" stroke-width="0.9"/>
<line x1="36.80" y1="332.80" x2="38.30" y2="332.80" stroke="#444" stroke-width="0.9"/>
<line x1="36.80" y1="329.25" x2="38.30" y2="329.25" stroke="#444" stroke-width="0.9"/>
<line x1="36.80" y1="325.70" x2="38.30" y2="325.70" stroke="#444" stroke-width="0.9"/>
<line x1="36.80" y1="322.15" x2="38.30" y2="322.15" stroke="#444" stroke-width="0.9"/>
<line x1="36.80" y1="318.60" x2="38.30" y2="318.60" stroke="#444" stroke-width="0.9"/>
<line x1="36.80" y1="315.05" x2="38.30" y2="315.05" stroke="#444" stroke-width="0.9"/>
<line x1="36.80" y1="311.50" x2="38.30" y2="311.50" stroke="#444" stroke-width="0.9"/>
<line x1="36.80" y1="307.95" x2="38.30" y2="307.95" stroke="#444" stroke-width="0.9"/>
<line x1="36.80" y1="304.40" x2="38.30" y2="304.40" stroke="#444" stroke-width="0.9"/>
<line x1="36.80" y1="300.85" x2="38.30" y2="300.85" stroke="#444" stroke-width="0.9"/>
<line x1="36.80" y1="297.30" x2="38.30" y2="297.30" stroke="#444" stroke-width="0.9"/>
<line x1="36.80" y1="293.75" x2="38.30" y2="293.75" stroke="#444" stroke-width="0.9"/>
<line x1="36.80" y1="290.20" x2="38.30" y2="290.20" stroke="#444" stroke-width="0.9"/>
<line x1="36.80" y1="286.65" x2="38.30" y2="286.65" stroke="#444" stroke-width="0.9"/>
<line x1="36.80" y1="283.10" x2="38.30" y2="283.10" stroke="#444" stroke-width="0.9"/>
<line x1="36.80" y1="279.55" x2="38.30" y2="279.55" stroke="#444" stroke-width="0.9"/>
<line x1="36.80" y1="276.00" x2="38.30" y2="276.00" stroke="#444" stroke-width="0.9"/>
<line x1="36.80" y1="272.45" x2="38.30" y2="272.45" stroke="#444" stroke-width="0.9"/>
<line x1="36.80" y1="268.90" x2="38.30" y2="268.90" stroke="#444" stroke-width="0.9"/>
<line x1="36.80" y1="265.35" x2="38.30" y2="265.35" stroke="#444" stroke-width="0.9"/>
<line x1="36.80" y1="261.80" x2="38.30" y2="261.80" stroke="#444" stroke-width="0.9"/>
<line x1="36.80" y1="258.25" x2="38.30" y2="258.25" stroke="#444" stroke-width="0.9"/>
<line x1="36.80" y1="254.70" x2="38.30" y2="254.70" stroke="#444" stroke-width="0.9"/>
<line x1="36.80" y1="251.15" x2="38.30" y2="251.15" stroke="#444" stroke-width="0.9"/>
<line x1="35.30" y1="446.40" x2="38.30" y2="446.40" stroke="#444" stroke-width="0.9"/>
<line x1="35.30" y1="428.65" x2="38.30" y2="428.65" stroke="#444" stroke-width="0.9"/>
<line x1="35.30" y1="410.90" x2="38.30" y2="410.90" stroke="#444" stroke-width="0.9"/>
<line x1="35.30" y1="393.15" x2="38.30" y2="393.15" stroke="#444" stroke-width="0.9"/>
<line x1="35.30" y1="375.40" x2="38.30" y2="375.40" stroke="#444" stroke-width="0.9"/>
<line x1="35.30" y1="357.65" x2="38.30" y2="357.65" stroke="#444" stroke-width="0.9"/>
<line x1="35.30" y1="339.90" x2="38.30" y2="339.90" stroke="#444" stroke-width="0.9"/>
<line x1="35.30" y1="322.15" x2="38.30" y2="322.15" stroke="#444" stroke-width="0.9"/>
<line x1="35.30" y1="304.40" x2="38.30" y2="304.40" stroke="#444" stroke-width="0.9"/>
<line x1="35.30" y1="286.65" x2="38.30" y2="286.65" stroke="#444" stroke-width="0.9"/>
<line x1="35.30" y1="268.90" x2="38.30" y2="268.90" stroke="#444" stroke-width="0.9"/>
<line x1="35.30" y1="251.15" x2="38.30" y2="251.15" stroke="#444" stroke-width="0.9"/>
<line x1="38.30" y1="459.50" x2="38.30" y2="461.10" stroke="#444" stroke-width="0.9"/>
<line x1="47.46" y1="459.50" x2="47.46" y2="461.10" stroke="#444" stroke-width="0.9"/>
<line x1="56.61" y1="459.50" x2="56.61" y2="461.10" stroke="#444" stroke-width="0.9"/>
<line x1="65.77" y1="459.50" x2="65.77" y2="461.10" stroke="#444" stroke-width="0.9"/>
<line x1="74.92" y1="459.50" x2="74.92" y2="461.10" stroke="#444" stroke-width="0.9"/>
<line x1="84.08" y1="459.50" x2="84.08" y2="461.10" stroke="#444" stroke-width="0.9"/>
<line x1="93.24" y1="459.50" x2="93.24" y2="461.10" stroke="#444" stroke-width="0.9"/>
<line x1="102.39" y1="459.50" x2="102.39" y2="461.10" stroke="#444" stroke-width="0.9"/>
<line x1="111.55" y1="459.50" x2="111.55" y2="461.10" stroke="#444" stroke-width="0.9"/>
<line x1="120.70" y1="459.50" x2="120.70" y2="461.10" stroke="#444" stroke-width="0.9"/>
<line x1="129.86" y1="459.50" x2="129.86" y2="461.10" stroke="#444" stroke-width="0.9"/>
<line x1="139.02" y1="459.50" x2="139.02" y2="461.10" stroke="#444" stroke-width="0.9"/>
<line x1="148.17" y1="459.50" x2="148.17" y2="461.10" stroke="#444" stroke-width="0.9"/>
<line x1="157.33" y1="459.50" x2="157.33" y2="461.10" stroke="#444" stroke-width="0.9"/>
<line x1="166.48" y1="459.50" x2="166.48" y2="461.10" stroke="#444" stroke-width="0.9"/>
<line x1="175.64" y1="459.50" x2="175.64" y2="461.10" stroke="#444" stroke-width="0.9"/>
<line x1="184.80" y1="459.50" x2="184.80" y2="461.10" stroke="#444" stroke-width="0.9"/>
<line x1="193.95" y1="459.50" x2="193.95" y2="461.10" stroke="#444" stroke-width="0.9"/>
<line x1="203.11" y1="459.50" x2="203.11" y2="461.10" stroke="#444" stroke-width="0.9"/>
<line x1="212.26" y1="459.50" x2="212.26" y2="461.10" stroke="#444" stroke-width="0.9"/>
<line x1="221.42" y1="459.50" x2="221.42" y2="461.10" stroke="#444" stroke-width="0.9"/>
<line x1="230.58" y1="459.50" x2="230.58" y2="461.10" stroke="#444" stroke-width="0.9"/>
<line x1="239.73" y1="459.50" x2="239.73" y2="461.10" stroke="#444" stroke-width="0.9"/>
<line x1="248.89" y1="459.50" x2="248.89" y2="461.10" stroke="#444" stroke-width="0.9"/>
<line x1="258.04" y1="459.50" x2="258.04" y2="461.10" stroke="#444" stroke-width="0.9"/>
<line x1="267.20" y1="459.50" x2="267.20" y2="461.10" stroke="#444" stroke-width="0.9"/>
<line x1="276.36" y1="459.50" x2="276.36" y2="461.10" stroke="#444" stroke-width="0.9"/>
<line x1="285.51" y1="459.50" x2="285.51" y2="461.10" stroke="#444" stroke-width="0.9"/>
<line x1="294.67" y1="459.50" x2="294.67" y2="461.10" stroke="#444" stroke-width="0.9"/>
<line x1="303.82" y1="459.50" x2="303.82" y2="461.10" stroke="#444" stroke-width="0.9"/>
<line x1="312.98" y1="459.50" x2="312.98" y2="461.10" stroke="#444" stroke-width="0.9"/>
<line x1="38.30" y1="459.50" x2="38.30" y2="462.80" stroke="#444" stroke-width="0.9"/>
<line x1="84.08" y1="459.50" x2="84.08" y2="462.80" stroke="#444" stroke-width="0.9"/>
<line x1="129.86" y1="459.50" x2="129.86" y2="462.80" stroke="#444" stroke-width="0.9"/>
<line x1="175.64" y1="459.50" x2="175.64" y2="462.80" stroke="#444" stroke-width="0.9"/>
<line x1="221.42" y1="459.50" x2="221.42" y2="462.80" stroke="#444" stroke-width="0.9"/>
<line x1="267.20" y1="459.50" x2="267.20" y2="462.80" stroke="#444" stroke-width="0.9"/>
<line x1="312.98" y1="459.50" x2="312.98" y2="462.80" stroke="#444" stroke-width="0.9"/>
<text transform="matrix(0.68473 0 0 0.70621 17.933 448.731)" font-family='"Liberation Sans", sans-serif' font-size="10" fill="#262626" stroke="#262626" stroke-width="0.431" stroke-linejoin="round">0.000</text>
<text transform="matrix(0.68473 0 0 0.70621 17.933 430.981)" font-family='"Liberation Sans", sans-serif' font-size="10" fill="#262626" stroke="#262626" stroke-width="0.431" stroke-linejoin="round">0.010</text>
<text transform="matrix(0.68473 0 0 0.70621 17.933 413.231)" font-family='"Liberation Sans", sans-serif' font-size="10" fill="#262626" stroke="#262626" stroke-width="0.431" stroke-linejoin="round">0.020</text>
<text transform="matrix(0.68473 0 0 0.70621 17.933 395.481)" font-family='"Liberation Sans", sans-serif' font-size="10" fill="#262626" stroke="#262626" stroke-width="0.431" stroke-linejoin="round">0.030</text>
<text transform="matrix(0.68473 0 0 0.70621 17.933 377.731)" font-family='"Liberation Sans", sans-serif' font-size="10" fill="#262626" stroke="#262626" stroke-width="0.431" stroke-linejoin="round">0.040</text>
<text transform="matrix(0.68473 0 0 0.70621 17.933 359.981)" font-family='"Liberation Sans", sans-serif' font-size="10" fill="#262626" stroke="#262626" stroke-width="0.431" stroke-linejoin="round">0.050</text>
<text transform="matrix(0.68473 0 0 0.70621 17.933 342.231)" font-family='"Liberation Sans", sans-serif' font-size="10" fill="#262626" stroke="#262626" stroke-width="0.431" stroke-linejoin="round">0.060</text>
<text transform="matrix(0.68473 0 0 0.70621 17.933 324.481)" font-family='"Liberation Sans", sans-serif' font-size="10" fill="#262626" stroke="#262626" stroke-width="0.431" stroke-linejoin="round">0.070</text>
<text transform="matrix(0.68473 0 0 0.70621 17.933 306.731)" font-family='"Liberation Sans", sans-serif' font-size="10" fill="#262626" stroke="#262626" stroke-width="0.431" stroke-linejoin="round">0.080</text>
<text transform="matrix(0.68473 0 0 0.70621 17.933 288.981)" font-family='"Liberation Sans", sans-serif' font-size="10" fill="#262626" stroke="#262626" stroke-width="0.431" stroke-linejoin="round">0.090</text>
<text transform="matrix(0.68473 0 0 0.70621 17.933 271.231)" font-family='"Liberation Sans", sans-serif' font-size="10" fill="#262626" stroke="#262626" stroke-width="0.431" stroke-linejoin="round">0.100</text>
<text transform="matrix(0.68473 0 0 0.70621 17.933 253.481)" font-family='"Liberation Sans", sans-serif' font-size="10" fill="#262626" stroke="#262626" stroke-width="0.431" stroke-linejoin="round">0.110</text>
<text transform="matrix(0.67411 0 0 0.63559 31.740 469.338)" font-family='"Liberation Sans", sans-serif' font-size="10" fill="#262626" stroke="#262626" stroke-width="0.458" stroke-linejoin="round">0.00</text>
<text transform="matrix(0.67411 0 0 0.63559 77.395 469.338)" font-family='"Liberation Sans", sans-serif' font-size="10" fill="#262626" stroke="#262626" stroke-width="0.458" stroke-linejoin="round">1.00</text>
<text transform="matrix(0.67411 0 0 0.63559 123.262 469.338)" font-family='"Liberation Sans", sans-serif' font-size="10" fill="#262626" stroke="#262626" stroke-width="0.458" stroke-linejoin="round">2.00</text>
<text transform="matrix(0.67411 0 0 0.63559 169.083 469.338)" font-family='"Liberation Sans", sans-serif' font-size="10" fill="#262626" stroke="#262626" stroke-width="0.458" stroke-linejoin="round">3.00</text>
<text transform="matrix(0.67411 0 0 0.63559 214.914 469.338)" font-family='"Liberation Sans", sans-serif' font-size="10" fill="#262626" stroke="#262626" stroke-width="0.458" stroke-linejoin="round">4.00</text>
<text transform="matrix(0.67411 0 0 0.63559 260.637 469.338)" font-family='"Liberation Sans", sans-serif' font-size="10" fill="#262626" stroke="#262626" stroke-width="0.458" stroke-linejoin="round">5.00</text>
<text transform="matrix(0.67411 0 0 0.63559 306.380 469.338)" font-family='"Liberation Sans", sans-serif' font-size="10" fill="#262626" stroke="#262626" stroke-width="0.458" stroke-linejoin="round">6.00</text>
<path d="M38.55,446.18 L38.80,446.15 L39.05,446.12 L39.30,446.09 L39.55,446.06 L39.80,446.02 L40.05,446.01 L40.30,446.09 L40.55,446.17 L40.80,446.24 L41.05,446.31 L41.30,446.39 L41.55,446.47 L41.80,446.54 L42.05,446.61 L42.30,446.68 L42.55,446.74 L42.80,446.80 L43.05,446.86 L43.30,446.93 L43.55,446.99 L43.80,447.05 L44.05,447.09 L44.30,447.04 L44.55,446.99 L44.80,446.94 L45.05,446.89 L45.30,446.84 L45.55,446.79 L45.80,446.74 L46.05,446.71 L46.30,446.75 L46.55,446.78 L46.80,446.82 L47.05,446.86 L47.30,446.89 L47.55,446.93 L47.80,446.97 L48.05,447.00 L48.30,447.00 L48.55,447.00 L48.80,447.00 L49.05,447.00 L49.30,447.00 L49.55,447.00 L49.80,447.00 L50.05,447.00 L50.30,447.00 L50.55,447.00 L50.80,447.00 L51.05,447.00 L51.30,447.00 L51.55,447.00 L51.80,447.00 L52.05,447.00 L52.30,447.00 L52.55,447.00 L52.80,447.00 L53.05,447.00 L53.30,447.00 L53.55,447.00 L53.80,447.00 L54.05,447.00 L54.30,447.00 L54.55,447.00 L54.80,447.00 L55.05,447.00 L55.30,447.00 L55.55,447.00 L55.80,447.00 L56.05,447.00 L56.30,447.00 L56.55,447.00 L56.80,447.00 L57.05,447.00 L57.30,447.00 L57.55,447.00 L57.80,447.00 L58.05,447.00 L58.30,447.00 L58.55,447.00 L58.80,447.00 L59.05,447.00 L59.30,447.00 L59.55,447.00 L59.80,447.00 L60.05,447.00 L60.30,447.00 L60.55,447.00 L60.80,447.00 L61.05,447.00 L61.30,447.00 L61.55,447.00 L61.80,447.00 L62.05,447.00 L62.30,447.00 L62.55,447.00 L62.80,447.00 L63.05,447.00 L63.30,447.00 L63.55,447.00 L63.80,447.00 L64.05,447.00 L64.30,447.00 L64.55,447.00 L64.80,447.00 L65.05,447.00 L65.30,447.00 L65.55,447.00 L65.80,447.00 L66.05,447.00 L66.30,447.00 L66.55,447.00 L66.80,447.00 L67.05,447.00 L67.30,447.00 L67.55,447.00 L67.80,447.00 L68.05,447.00 L68.30,447.00 L68.55,447.00 L68.80,447.00 L69.05,447.00 L69.30,447.00 L69.55,447.00 L69.80,447.00 L70.05,447.00 L70.30,447.00 L70.55,447.00 L70.80,447.00 L71.05,447.00 L71.30,447.00 L71.55,447.00 L71.80,447.00 L72.05,447.00 L72.30,447.00 L72.55,447.00 L72.80,447.00 L73.05,447.00 L73.30,447.00 L73.55,447.00 L73.80,447.00 L74.05,447.00 L74.30,447.00 L74.55,447.00 L74.80,447.00 L75.05,447.00 L75.30,447.00 L75.55,447.00 L75.80,447.00 L76.05,447.00 L76.30,447.00 L76.55,447.00 L76.80,447.00 L77.05,447.00 L77.30,447.00 L77.55,447.00 L77.80,447.00 L78.05,447.00 L78.30,447.00 L78.55,447.00 L78.80,447.00 L79.05,447.00 L79.30,447.00 L79.55,447.00 L79.80,447.00 L80.05,447.00 L80.30,447.00 L80.55,447.00 L80.80,447.00 L81.05,447.00 L81.30,447.00 L81.55,447.00 L81.80,447.00 L82.05,447.00 L82.30,447.00 L82.55,447.00 L82.80,447.00 L83.05,447.00 L83.30,447.00 L83.55,447.00 L83.80,447.00 L84.05,447.00 L84.30,447.00 L84.55,447.00 L84.80,447.00 L85.05,447.00 L85.30,447.00 L85.55,447.00 L85.80,447.00 L86.05,447.00 L86.30,447.00 L86.55,447.00 L86.80,447.00 L87.05,447.00 L87.30,447.00 L87.55,447.00 L87.80,447.00 L88.05,447.00 L88.30,447.00 L88.55,447.00 L88.80,447.00 L89.05,447.00 L89.30,447.00 L89.55,447.00 L89.80,447.00 L90.05,447.00 L90.30,447.00 L90.55,447.00 L90.80,447.00 L91.05,447.00 L91.30,447.00 L91.55,447.00 L91.80,447.00 L92.05,447.00 L92.30,447.00 L92.55,447.00 L92.80,447.00 L93.05,447.00 L93.30,447.00 L93.55,447.00 L93.80,447.00 L94.05,447.00 L94.30,447.00 L94.55,447.00 L94.80,447.00 L95.05,447.00 L95.30,447.00 L95.55,447.00 L95.80,447.00 L96.05,447.00 L96.30,447.00 L96.55,447.00 L96.80,447.00 L97.05,447.00 L97.30,447.00 L97.55,447.00 L97.80,447.00 L98.05,447.00 L98.30,447.00 L98.55,447.00 L98.80,447.00 L99.05,447.00 L99.30,447.00 L99.55,447.00 L99.80,447.00 L100.05,447.00 L100.30,447.00 L100.55,447.00 L100.80,447.00 L101.05,447.00 L101.30,447.00 L101.55,447.00 L101.80,447.00 L102.05,447.00 L102.30,447.00 L102.55,447.00 L102.80,447.00 L103.05,447.00 L103.30,447.00 L103.55,447.00 L103.80,447.00 L104.05,447.00 L104.30,447.00 L104.55,447.00 L104.80,447.00 L105.05,447.00 L105.30,447.00 L105.55,447.00 L105.80,447.00 L106.05,447.00 L106.30,447.00 L106.55,447.00 L106.80,447.00 L107.05,447.00 L107.30,447.00 L107.55,447.00 L107.80,447.00 L108.05,447.00 L108.30,447.00 L108.55,447.00 L108.80,447.00 L109.05,447.00 L109.30,447.00 L109.55,447.00 L109.80,447.00 L110.05,447.00 L110.30,447.00 L110.55,447.00 L110.80,447.00 L111.05,447.00 L111.30,447.00 L111.55,447.00 L111.80,447.00 L112.05,447.00 L112.30,447.00 L112.55,447.00 L112.80,447.00 L113.05,447.00 L113.30,447.00 L113.55,447.00 L113.80,447.00 L114.05,447.00 L114.30,447.00 L114.55,447.00 L114.80,447.00 L115.05,447.00 L115.30,447.00 L115.55,447.00 L115.80,447.00 L116.05,447.00 L116.30,447.00 L116.55,447.00 L116.80,447.00 L117.05,447.00 L117.30,447.00 L117.55,447.00 L117.80,447.00 L118.05,447.00 L118.30,447.00 L118.55,447.00 L118.80,447.00 L119.05,447.00 L119.30,447.00 L119.55,447.00 L119.80,447.00 L120.05,447.00 L120.30,447.00 L120.55,447.00 L120.80,447.00 L121.05,447.00 L121.30,447.00 L121.55,447.00 L121.80,447.00 L122.05,447.00 L122.30,447.00 L122.55,447.00 L122.80,447.00 L123.05,447.00 L123.30,447.00 L123.55,447.00 L123.80,447.00 L124.05,447.00 L124.30,447.00 L124.55,447.00 L124.80,447.00 L125.05,447.00 L125.30,447.00 L125.55,447.00 L125.80,447.00 L126.05,446.78 L126.30,446.57 L126.55,446.35 L126.80,446.14 L127.05,445.92 L127.30,445.70 L127.55,445.49 L127.80,445.27 L128.05,445.12 L128.30,445.21 L128.55,445.29 L128.80,445.38 L129.05,445.47 L129.30,445.56 L129.55,445.64 L129.80,445.73 L130.05,445.79 L130.30,445.76 L130.55,445.73 L130.80,445.70 L131.05,445.67 L131.30,445.64 L131.55,445.61" fill="none" stroke="#262626" stroke-width="1.0" stroke-linejoin="round" stroke-linecap="round"/>
<path d="M131.80,445.62 L132.05,445.66 L132.30,445.69 L132.55,445.72 L132.80,445.75 L133.05,445.78 L133.30,445.81 L133.55,445.84 L133.80,445.88 L134.05,445.89 L134.30,445.86 L134.55,445.83 L134.80,445.80 L135.05,445.76 L135.30,445.73 L135.55,445.70 L135.80,445.67 L136.05,445.63 L136.30,445.60" fill="none" stroke="#e6343a" stroke-width="1.0" stroke-linejoin="round" stroke-linecap="round"/>
<path d="M136.30,445.60 L136.55,445.48 L136.80,445.36 L137.05,445.24 L137.30,445.11 L137.55,444.99 L137.80,444.87 L138.05,444.75 L138.30,444.63 L138.55,444.51 L138.80,444.39 L139.05,444.26 L139.30,444.14 L139.55,444.02 L139.80,443.90 L140.05,444.06 L140.30,444.21 L140.55,444.37 L140.80,444.52 L141.05,444.68 L141.30,444.83 L141.55,444.99 L141.80,445.14 L142.05,445.30 L142.30,445.45 L142.55,445.61 L142.80,445.76 L143.05,445.92 L143.30,446.08 L143.55,446.26 L143.80,446.57 L144.05,446.88 L144.30,447.19 L144.55,447.50 L144.80,447.81 L145.05,448.12 L145.30,448.43 L145.55,448.74 L145.80,449.04 L146.05,449.35 L146.30,449.66 L146.55,449.97 L146.80,450.28 L147.05,450.59 L147.30,450.90 L147.55,450.40 L147.80,449.90 L148.05,449.40 L148.30,448.90 L148.55,448.40 L148.80,447.90 L149.05,447.40 L149.30,446.90 L149.55,446.42 L149.80,446.00 L150.05,445.59 L150.30,445.18 L150.55,444.77 L150.80,444.35 L151.05,443.94 L151.30,443.53 L151.55,443.22 L151.80,443.31 L152.05,443.40 L152.30,443.49 L152.55,443.58 L152.80,443.68 L153.05,443.77 L153.30,443.86 L153.55,443.95 L153.80,444.04 L154.05,444.13 L154.30,444.23 L154.55,444.31 L154.80,444.35 L155.05,444.40 L155.30,444.44 L155.55,444.49 L155.80,444.53 L156.05,444.58 L156.30,444.62 L156.55,444.67 L156.80,444.71 L157.05,444.76 L157.30,444.80 L157.55,444.85 L157.80,444.89 L158.05,444.94 L158.30,444.98 L158.55,445.03 L158.80,445.07 L159.05,445.12 L159.30,445.17 L159.55,445.21 L159.80,445.26 L160.05,445.30 L160.30,445.35 L160.55,445.39 L160.80,445.44 L161.05,445.49 L161.30,445.53 L161.55,445.58 L161.80,445.62 L162.05,445.67 L162.30,445.71 L162.55,445.76 L162.80,445.81 L163.05,445.85 L163.30,445.90 L163.55,445.94 L163.80,445.99 L164.05,446.03 L164.30,446.08 L164.55,446.13 L164.80,446.17 L165.05,446.22 L165.30,446.26 L165.55,446.30 L165.80,446.31 L166.05,446.32 L166.30,446.32 L166.55,446.33 L166.80,446.34 L167.05,446.35 L167.30,446.36 L167.55,446.36 L167.80,446.37 L168.05,446.38 L168.30,446.39 L168.55,446.39 L168.80,446.40 L169.05,446.41 L169.30,446.42 L169.55,446.42 L169.80,446.43 L170.05,446.44 L170.30,446.45 L170.55,446.45 L170.80,446.46 L171.05,446.47 L171.30,446.48 L171.55,446.49 L171.80,446.49 L172.05,446.50 L172.30,446.51 L172.55,446.52 L172.80,446.52 L173.05,446.53 L173.30,446.54 L173.55,446.55 L173.80,446.55 L174.05,446.56 L174.30,446.57 L174.55,446.58 L174.80,446.59 L175.05,446.59 L175.30,446.60 L175.55,446.61 L175.80,446.62 L176.05,446.62 L176.30,446.63 L176.55,446.64 L176.80,446.65 L177.05,446.65 L177.30,446.66 L177.55,446.67 L177.80,446.68 L178.05,446.68 L178.30,446.69 L178.55,446.70 L178.80,446.71 L179.05,446.72 L179.30,446.72 L179.55,446.73 L179.80,446.74 L180.05,446.75 L180.30,446.75 L180.55,446.76 L180.80,446.76 L181.05,446.76 L181.30,446.74 L181.55,446.69 L181.80,446.59 L182.05,446.38 L182.30,446.00 L182.55,445.35 L182.80,444.26 L183.05,442.53 L183.30,439.89 L183.55,436.06 L183.80,430.74 L184.05,423.69 L184.30,414.78 L184.55,404.04 L184.80,391.72 L185.05,378.32 L185.30,364.52 L185.55,351.14 L185.80,339.05 L186.05,329.01 L186.30,321.62 L186.55,317.21 L186.80,315.81 L187.05,317.22 L187.30,321.03 L187.55,326.71 L187.80,333.69 L188.05,341.44 L188.30,349.51 L188.55,357.56 L188.80,365.33 L189.05,372.67 L189.30,379.50 L189.55,385.79 L189.80,391.54 L190.05,396.77 L190.30,401.52 L190.55,405.83 L190.80,409.73 L191.05,413.26 L191.30,416.45 L191.55,419.34 L191.80,421.96 L192.05,424.32 L192.30,426.47 L192.55,428.40 L192.80,430.16 L193.05,431.74 L193.30,433.18 L193.55,434.48 L193.80,435.65 L194.05,436.72 L194.30,437.68 L194.55,438.55 L194.80,439.34 L195.05,440.05 L195.30,440.70 L195.55,441.28 L195.80,441.81 L196.05,442.29 L196.30,442.72 L196.55,443.11 L196.80,443.47 L197.05,443.79 L197.30,444.08 L197.55,444.34 L197.80,444.58 L198.05,444.79 L198.30,444.99 L198.55,445.16 L198.80,445.32 L199.05,445.47 L199.30,445.60 L199.55,445.72 L199.80,445.82 L200.05,445.92 L200.30,446.01 L200.55,446.09 L200.80,446.16 L201.05,446.23 L201.30,446.28 L201.55,446.34 L201.80,446.39 L202.05,446.43 L202.30,446.47 L202.55,446.51 L202.80,446.54 L203.05,446.57 L203.30,446.59 L203.55,446.62 L203.80,446.64 L204.05,446.66 L204.30,446.68 L204.55,446.70 L204.80,446.71 L205.05,446.72 L205.30,446.74 L205.55,446.75 L205.80,446.76 L206.05,446.77 L206.30,446.78 L206.55,446.78 L206.80,446.79 L207.05,446.80 L207.30,446.80 L207.55,446.81 L207.80,446.81 L208.05,446.82 L208.30,446.82 L208.55,446.82 L208.80,446.83 L209.05,446.83 L209.30,446.83 L209.55,446.84 L209.80,446.84 L210.05,446.84 L210.30,446.84 L210.55,446.85 L210.80,446.85 L211.05,446.85 L211.30,446.85 L211.55,446.85 L211.80,446.85 L212.05,446.86 L212.30,446.86 L212.55,446.86 L212.80,446.86 L213.05,446.86 L213.30,446.86 L213.55,446.86 L213.80,446.86 L214.05,446.86 L214.30,446.86 L214.55,446.87 L214.80,446.87 L215.05,446.87 L215.30,446.87 L215.55,446.87 L215.80,446.87 L216.05,446.87 L216.30,446.87 L216.55,446.87 L216.80,446.87 L217.05,446.87 L217.30,446.87 L217.55,446.87 L217.80,446.87 L218.05,446.87 L218.30,446.88 L218.55,446.88 L218.80,446.88 L219.05,446.88 L219.30,446.88 L219.55,446.88 L219.80,446.88 L220.05,446.88 L220.30,446.88 L220.55,446.88 L220.80,446.88 L221.05,446.88 L221.30,446.88 L221.55,446.88 L221.80,446.88 L222.05,446.88 L222.30,446.88 L222.55,446.88 L222.80,446.88 L223.05,446.89 L223.30,446.89 L223.55,446.89 L223.80,446.89 L224.05,446.89 L224.30,446.89 L224.55,446.89 L224.80,446.89 L225.05,446.89 L225.30,446.89 L225.55,446.89 L225.80,446.89 L226.05,446.89 L226.30,446.89 L226.55,446.89 L226.80,446.89 L227.05,446.89 L227.30,446.89 L227.55,446.89 L227.80,446.90 L228.05,446.90 L228.30,446.90 L228.55,446.90 L228.80,446.90 L229.05,446.90 L229.30,446.90 L229.55,446.90 L229.80,446.90 L230.05,447.00 L230.30,447.00 L230.55,447.00 L230.80,447.00 L231.05,447.00 L231.30,447.00 L231.55,447.00 L231.80,447.00 L232.05,447.00 L232.30,447.00 L232.55,447.00 L232.80,447.00 L233.05,447.00 L233.30,447.00 L233.55,447.00 L233.80,447.00 L234.05,447.00 L234.30,447.00 L234.55,447.00 L234.80,447.00 L235.05,447.00 L235.30,447.00 L235.55,447.00 L235.80,446.99 L236.05,446.99 L236.30,446.97 L236.55,446.95 L236.80,446.92 L237.05,446.86 L237.30,446.78 L237.55,446.67 L237.80,446.51 L238.05,446.29 L238.30,446.01 L238.55,445.66 L238.80,445.25 L239.05,444.78 L239.30,444.28 L239.55,443.75 L239.80,443.24 L240.05,442.78 L240.30,442.38 L240.55,442.08 L240.80,441.88 L241.05,441.80 L241.30,441.84 L241.55,441.97 L241.80,442.19 L242.05,442.47 L242.30,442.80 L242.55,443.14 L242.80,443.50 L243.05,443.85 L243.30,444.17 L243.55,444.48 L243.80,444.76 L244.05,445.02 L244.30,445.25 L244.55,445.45 L244.80,445.63 L245.05,445.79 L245.30,445.93 L245.55,446.06 L245.80,446.17 L246.05,446.27 L246.30,446.35 L246.55,446.43 L246.80,446.50 L247.05,446.55 L247.30,446.61 L247.55,446.65 L247.80,446.69 L248.05,446.73 L248.30,446.76 L248.55,446.79 L248.80,446.81 L249.05,446.84 L249.30,446.86 L249.55,446.87 L249.80,446.89 L250.05,446.90 L250.30,446.91 L250.55,446.92 L250.80,446.93 L251.05,446.94 L251.30,446.95 L251.55,446.95 L251.80,446.96 L252.05,446.96 L252.30,446.97 L252.55,446.97 L252.80,446.97 L253.05,446.98 L253.30,446.98 L253.55,446.98 L253.80,446.98 L254.05,446.99 L254.30,446.99 L254.55,446.99 L254.80,446.99 L255.05,446.94 L255.30,446.97 L255.55,447.23 L255.80,447.08 L256.05,446.88 L256.30,446.88 L256.55,447.00 L256.80,446.67 L257.05,446.79 L257.30,447.03 L257.55,447.29 L257.80,446.76 L258.05,446.79 L258.30,446.85 L258.55,447.14 L258.80,446.79 L259.05,447.17 L259.30,446.56 L259.55,446.75 L259.80,446.75 L260.05,447.00 L260.30,447.06 L260.55,446.42 L260.80,446.57 L261.05,446.88 L261.30,446.64 L261.55,446.42 L261.80,447.06 L262.05,446.92 L262.30,446.92 L262.55,446.68 L262.80,447.06 L263.05,446.74 L263.30,447.07 L263.55,446.57 L263.80,446.59 L264.05,446.85 L264.30,446.62 L264.55,446.97 L264.80,446.87 L265.05,446.57 L265.30,446.82 L265.55,446.71 L265.80,447.03 L266.05,446.64 L266.30,446.69 L266.55,447.10 L266.80,447.36 L267.05,447.30 L267.30,446.82 L267.55,446.85 L267.80,447.18 L268.05,446.77 L268.30,446.56 L268.55,446.83 L268.80,446.91 L269.05,446.59 L269.30,446.39 L269.55,446.44 L269.80,446.97 L270.05,446.61 L270.30,446.76 L270.55,446.85 L270.80,446.95 L271.05,446.72 L271.30,446.92 L271.55,446.58 L271.80,446.71 L272.05,446.54 L272.30,447.08 L272.55,446.79 L272.80,446.62 L273.05,446.71 L273.30,446.74 L273.55,446.98 L273.80,446.40 L274.05,446.54 L274.30,446.71 L274.55,447.43 L274.80,447.04 L275.05,446.77 L275.30,446.98 L275.55,447.31 L275.80,446.74 L276.05,446.71 L276.30,447.10 L276.55,446.92 L276.80,446.97 L277.05,446.67 L277.30,447.28 L277.55,447.23 L277.80,446.94 L278.05,446.97 L278.30,446.29 L278.55,446.96 L278.80,446.75 L279.05,446.91 L279.30,446.97 L279.55,446.71 L279.80,446.38 L280.05,446.89 L280.30,446.61 L280.55,446.72 L280.80,446.65 L281.05,446.71 L281.30,446.22 L281.55,447.10 L281.80,446.86 L282.05,447.08 L282.30,447.29 L282.55,446.81 L282.80,446.35 L283.05,446.58 L283.30,446.50 L283.55,446.67 L283.80,446.82 L284.05,446.30 L284.30,446.89 L284.55,446.42 L284.80,446.87 L285.05,446.77 L285.30,446.72 L285.55,446.78 L285.80,446.67 L286.05,446.65 L286.30,446.38 L286.55,446.79 L286.80,447.26 L287.05,447.30 L287.30,447.13 L287.55,446.98 L287.80,446.63 L288.05,447.16 L288.30,446.79 L288.55,446.78 L288.80,446.73 L289.05,446.82 L289.30,446.69 L289.55,446.78 L289.80,446.53 L290.05,446.71 L290.30,447.37 L290.55,446.78 L290.80,446.74 L291.05,446.93 L291.30,446.98 L291.55,446.52 L291.80,446.75 L292.05,447.03 L292.30,446.87 L292.55,446.83 L292.80,447.19 L293.05,446.63 L293.30,446.82 L293.55,446.67 L293.80,447.17 L294.05,446.31 L294.30,446.63 L294.55,446.67 L294.80,446.97 L295.05,446.95 L295.30,447.15 L295.55,446.41 L295.80,446.99 L296.05,446.73 L296.30,446.63 L296.55,446.93 L296.80,446.57 L297.05,446.28 L297.30,446.71 L297.55,446.43 L297.80,446.64 L298.05,446.89 L298.30,446.88 L298.55,447.20 L298.80,446.75 L299.05,446.42 L299.30,446.61 L299.55,446.57 L299.80,446.50 L300.05,446.91 L300.30,446.64 L300.55,446.31 L300.80,446.97 L301.05,446.77 L301.30,446.89 L301.55,446.83 L301.80,446.96 L302.05,446.81 L302.30,447.11 L302.55,446.91 L302.80,446.90 L303.05,446.90 L303.30,446.44 L303.55,446.76 L303.80,446.74 L304.05,446.85 L304.30,446.46 L304.55,447.21 L304.80,446.83 L305.05,446.50 L305.30,446.37 L305.55,446.73 L305.80,446.78 L306.05,446.62 L306.30,446.82 L306.55,446.64 L306.80,446.94 L307.05,446.62 L307.30,446.79 L307.55,447.04 L307.80,447.44 L308.05,446.55 L308.30,446.68 L308.55,446.59 L308.80,447.00 L309.05,446.51 L309.30,446.68 L309.55,446.79 L309.80,446.56 L310.05,446.56 L310.30,446.68 L310.55,446.27 L310.80,446.44 L311.05,446.70 L311.30,446.84 L311.55,446.75 L311.80,446.36 L312.05,446.68 L312.30,447.00 L312.55,446.94 L312.80,446.78 L313.05,446.58 L313.30,446.96 L313.55,446.66 L313.80,446.51 L314.05,446.60 L314.30,447.16" fill="none" stroke="#262626" stroke-width="1.0" stroke-linejoin="round" stroke-linecap="round"/>
<text transform="matrix(0 -0.82107 0.81702 0 189.420 314.217)" font-family='"Liberation Sans", sans-serif' font-size="10" fill="#222" stroke="#222" stroke-width="0.147" stroke-linejoin="round">Caffeine</text>
<text transform="matrix(0 -0.83695 0.78315 0 242.875 440.287)" font-family='"Liberation Sans", sans-serif' font-size="10" fill="#222" stroke="#222" stroke-width="0.148" stroke-linejoin="round">Raspberry Ketone</text>
<text transform="matrix(0 -0.93889 0.88857 0 8.513 362.418)" font-family='"Liberation Sans", sans-serif' font-size="10" fill="#222" stroke="#222" stroke-width="0.383" stroke-linejoin="round">AU</text>
<text transform="matrix(0.94878 0 0 0.80340 158.222 481.522)" font-family='"Liberation Sans", sans-serif' font-size="10" fill="#222" stroke="#222" stroke-width="0.400" stroke-linejoin="round">Minutes</text>
<text transform="matrix(1.28000 0 0 1.10197 1.562 253.542)" font-family='"Liberation Serif", serif' font-size="10" fill="#111" stroke="#111" stroke-width="0.168" stroke-linejoin="round">c</text>
<line x1="390.10" y1="279.50" x2="683.50" y2="279.50" stroke="#3a3a3a" stroke-width="1.0"/>
<line x1="683.50" y1="279.50" x2="683.50" y2="458.50" stroke="#3a3a3a" stroke-width="1.0"/>
<line x1="390.10" y1="279.50" x2="390.10" y2="458.50" stroke="#3a3a3a" stroke-width="1.0"/>
<line x1="390.10" y1="458.50" x2="683.50" y2="458.50" stroke="#3a3a3a" stroke-width="1.0"/>
<line x1="388.60" y1="454.23" x2="390.10" y2="454.23" stroke="#444" stroke-width="0.9"/>
<line x1="388.60" y1="449.50" x2="390.10" y2="449.50" stroke="#444" stroke-width="0.9"/>
<line x1="388.60" y1="444.77" x2="390.10" y2="444.77" stroke="#444" stroke-width="0.9"/>
<line x1="388.60" y1="440.04" x2="390.10" y2="440.04" stroke="#444" stroke-width="0.9"/>
<line x1="388.60" y1="435.30" x2="390.10" y2="435.30" stroke="#444" stroke-width="0.9"/>
<line x1="388.60" y1="430.57" x2="390.10" y2="430.57" stroke="#444" stroke-width="0.9"/>
<line x1="388.60" y1="425.84" x2="390.10" y2="425.84" stroke="#444" stroke-width="0.9"/>
<line x1="388.60" y1="421.11" x2="390.10" y2="421.11" stroke="#444" stroke-width="0.9"/>
<line x1="388.60" y1="416.37" x2="390.10" y2="416.37" stroke="#444" stroke-width="0.9"/>
<line x1="388.60" y1="411.64" x2="390.10" y2="411.64" stroke="#444" stroke-width="0.9"/>
<line x1="388.60" y1="406.91" x2="390.10" y2="406.91" stroke="#444" stroke-width="0.9"/>
<line x1="388.60" y1="402.18" x2="390.10" y2="402.18" stroke="#444" stroke-width="0.9"/>
<line x1="388.60" y1="397.44" x2="390.10" y2="397.44" stroke="#444" stroke-width="0.9"/>
<line x1="388.60" y1="392.71" x2="390.10" y2="392.71" stroke="#444" stroke-width="0.9"/>
<line x1="388.60" y1="387.98" x2="390.10" y2="387.98" stroke="#444" stroke-width="0.9"/>
<line x1="388.60" y1="383.25" x2="390.10" y2="383.25" stroke="#444" stroke-width="0.9"/>
<line x1="388.60" y1="378.51" x2="390.10" y2="378.51" stroke="#444" stroke-width="0.9"/>
<line x1="388.60" y1="373.78" x2="390.10" y2="373.78" stroke="#444" stroke-width="0.9"/>
<line x1="388.60" y1="369.05" x2="390.10" y2="369.05" stroke="#444" stroke-width="0.9"/>
<line x1="388.60" y1="364.31" x2="390.10" y2="364.31" stroke="#444" stroke-width="0.9"/>
<line x1="388.60" y1="359.58" x2="390.10" y2="359.58" stroke="#444" stroke-width="0.9"/>
<line x1="388.60" y1="354.85" x2="390.10" y2="354.85" stroke="#444" stroke-width="0.9"/>
<line x1="388.60" y1="350.12" x2="390.10" y2="350.12" stroke="#444" stroke-width="0.9"/>
<line x1="388.60" y1="345.38" x2="390.10" y2="345.38" stroke="#444" stroke-width="0.9"/>
<line x1="388.60" y1="340.65" x2="390.10" y2="340.65" stroke="#444" stroke-width="0.9"/>
<line x1="388.60" y1="335.92" x2="390.10" y2="335.92" stroke="#444" stroke-width="0.9"/>
<line x1="388.60" y1="331.19" x2="390.10" y2="331.19" stroke="#444" stroke-width="0.9"/>
<line x1="388.60" y1="326.45" x2="390.10" y2="326.45" stroke="#444" stroke-width="0.9"/>
<line x1="388.60" y1="321.72" x2="390.10" y2="321.72" stroke="#444" stroke-width="0.9"/>
<line x1="388.60" y1="316.99" x2="390.10" y2="316.99" stroke="#444" stroke-width="0.9"/>
<line x1="388.60" y1="312.26" x2="390.10" y2="312.26" stroke="#444" stroke-width="0.9"/>
<line x1="388.60" y1="307.52" x2="390.10" y2="307.52" stroke="#444" stroke-width="0.9"/>
<line x1="388.60" y1="302.79" x2="390.10" y2="302.79" stroke="#444" stroke-width="0.9"/>
<line x1="388.60" y1="298.06" x2="390.10" y2="298.06" stroke="#444" stroke-width="0.9"/>
<line x1="388.60" y1="293.33" x2="390.10" y2="293.33" stroke="#444" stroke-width="0.9"/>
<line x1="388.60" y1="288.60" x2="390.10" y2="288.60" stroke="#444" stroke-width="0.9"/>
<line x1="388.60" y1="283.86" x2="390.10" y2="283.86" stroke="#444" stroke-width="0.9"/>
<line x1="387.10" y1="449.50" x2="390.10" y2="449.50" stroke="#444" stroke-width="0.9"/>
<line x1="387.10" y1="430.57" x2="390.10" y2="430.57" stroke="#444" stroke-width="0.9"/>
<line x1="387.10" y1="411.64" x2="390.10" y2="411.64" stroke="#444" stroke-width="0.9"/>
<line x1="387.10" y1="392.71" x2="390.10" y2="392.71" stroke="#444" stroke-width="0.9"/>
<line x1="387.10" y1="373.78" x2="390.10" y2="373.78" stroke="#444" stroke-width="0.9"/>
<line x1="387.10" y1="354.85" x2="390.10" y2="354.85" stroke="#444" stroke-width="0.9"/>
<line x1="387.10" y1="335.92" x2="390.10" y2="335.92" stroke="#444" stroke-width="0.9"/>
<line x1="387.10" y1="316.99" x2="390.10" y2="316.99" stroke="#444" stroke-width="0.9"/>
<line x1="387.10" y1="298.06" x2="390.10" y2="298.06" stroke="#444" stroke-width="0.9"/>
<line x1="387.10" y1="279.13" x2="390.10" y2="279.13" stroke="#444" stroke-width="0.9"/>
<line x1="390.00" y1="458.50" x2="390.00" y2="460.10" stroke="#444" stroke-width="0.9"/>
<line x1="398.69" y1="458.50" x2="398.69" y2="460.10" stroke="#444" stroke-width="0.9"/>
<line x1="407.38" y1="458.50" x2="407.38" y2="460.10" stroke="#444" stroke-width="0.9"/>
<line x1="416.07" y1="458.50" x2="416.07" y2="460.10" stroke="#444" stroke-width="0.9"/>
<line x1="424.76" y1="458.50" x2="424.76" y2="460.10" stroke="#444" stroke-width="0.9"/>
<line x1="433.45" y1="458.50" x2="433.45" y2="460.10" stroke="#444" stroke-width="0.9"/>
<line x1="442.14" y1="458.50" x2="442.14" y2="460.10" stroke="#444" stroke-width="0.9"/>
<line x1="450.83" y1="458.50" x2="450.83" y2="460.10" stroke="#444" stroke-width="0.9"/>
<line x1="459.52" y1="458.50" x2="459.52" y2="460.10" stroke="#444" stroke-width="0.9"/>
<line x1="468.21" y1="458.50" x2="468.21" y2="460.10" stroke="#444" stroke-width="0.9"/>
<line x1="476.90" y1="458.50" x2="476.90" y2="460.10" stroke="#444" stroke-width="0.9"/>
<line x1="485.59" y1="458.50" x2="485.59" y2="460.10" stroke="#444" stroke-width="0.9"/>
<line x1="494.28" y1="458.50" x2="494.28" y2="460.10" stroke="#444" stroke-width="0.9"/>
<line x1="502.97" y1="458.50" x2="502.97" y2="460.10" stroke="#444" stroke-width="0.9"/>
<line x1="511.66" y1="458.50" x2="511.66" y2="460.10" stroke="#444" stroke-width="0.9"/>
<line x1="520.35" y1="458.50" x2="520.35" y2="460.10" stroke="#444" stroke-width="0.9"/>
<line x1="529.04" y1="458.50" x2="529.04" y2="460.10" stroke="#444" stroke-width="0.9"/>
<line x1="537.73" y1="458.50" x2="537.73" y2="460.10" stroke="#444" stroke-width="0.9"/>
<line x1="546.42" y1="458.50" x2="546.42" y2="460.10" stroke="#444" stroke-width="0.9"/>
<line x1="555.11" y1="458.50" x2="555.11" y2="460.10" stroke="#444" stroke-width="0.9"/>
<line x1="563.80" y1="458.50" x2="563.80" y2="460.10" stroke="#444" stroke-width="0.9"/>
<line x1="572.49" y1="458.50" x2="572.49" y2="460.10" stroke="#444" stroke-width="0.9"/>
<line x1="581.18" y1="458.50" x2="581.18" y2="460.10" stroke="#444" stroke-width="0.9"/>
<line x1="589.87" y1="458.50" x2="589.87" y2="460.10" stroke="#444" stroke-width="0.9"/>
<line x1="598.56" y1="458.50" x2="598.56" y2="460.10" stroke="#444" stroke-width="0.9"/>
<line x1="607.25" y1="458.50" x2="607.25" y2="460.10" stroke="#444" stroke-width="0.9"/>
<line x1="615.94" y1="458.50" x2="615.94" y2="460.10" stroke="#444" stroke-width="0.9"/>
<line x1="624.63" y1="458.50" x2="624.63" y2="460.10" stroke="#444" stroke-width="0.9"/>
<line x1="633.32" y1="458.50" x2="633.32" y2="460.10" stroke="#444" stroke-width="0.9"/>
<line x1="642.01" y1="458.50" x2="642.01" y2="460.10" stroke="#444" stroke-width="0.9"/>
<line x1="650.70" y1="458.50" x2="650.70" y2="460.10" stroke="#444" stroke-width="0.9"/>
<line x1="659.39" y1="458.50" x2="659.39" y2="460.10" stroke="#444" stroke-width="0.9"/>
<line x1="668.08" y1="458.50" x2="668.08" y2="460.10" stroke="#444" stroke-width="0.9"/>
<line x1="676.77" y1="458.50" x2="676.77" y2="460.10" stroke="#444" stroke-width="0.9"/>
<line x1="390.00" y1="458.50" x2="390.00" y2="461.20" stroke="#444" stroke-width="0.9"/>
<line x1="433.45" y1="458.50" x2="433.45" y2="461.20" stroke="#444" stroke-width="0.9"/>
<line x1="476.90" y1="458.50" x2="476.90" y2="461.20" stroke="#444" stroke-width="0.9"/>
<line x1="520.35" y1="458.50" x2="520.35" y2="461.20" stroke="#444" stroke-width="0.9"/>
<line x1="563.80" y1="458.50" x2="563.80" y2="461.20" stroke="#444" stroke-width="0.9"/>
<line x1="607.25" y1="458.50" x2="607.25" y2="461.20" stroke="#444" stroke-width="0.9"/>
<line x1="650.70" y1="458.50" x2="650.70" y2="461.20" stroke="#444" stroke-width="0.9"/>
<text transform="matrix(0.77263 0 0 0.60734 370.864 451.591)" font-family='"Liberation Sans", sans-serif' font-size="10" fill="#262626" stroke="#262626" stroke-width="0.435" stroke-linejoin="round">0.00</text>
<text transform="matrix(0.77263 0 0 0.60734 370.951 432.661)" font-family='"Liberation Sans", sans-serif' font-size="10" fill="#262626" stroke="#262626" stroke-width="0.435" stroke-linejoin="round">0.02</text>
<text transform="matrix(0.77263 0 0 0.60734 370.789 413.731)" font-family='"Liberation Sans", sans-serif' font-size="10" fill="#262626" stroke="#262626" stroke-width="0.435" stroke-linejoin="round">0.04</text>
<text transform="matrix(0.77263 0 0 0.60734 370.902 394.801)" font-family='"Liberation Sans", sans-serif' font-size="10" fill="#262626" stroke="#262626" stroke-width="0.435" stroke-linejoin="round">0.06</text>
<text transform="matrix(0.77263 0 0 0.60734 370.898 375.871)" font-family='"Liberation Sans", sans-serif' font-size="10" fill="#262626" stroke="#262626" stroke-width="0.435" stroke-linejoin="round">0.08</text>
<text transform="matrix(0.77263 0 0 0.60734 370.864 356.941)" font-family='"Liberation Sans", sans-serif' font-size="10" fill="#262626" stroke="#262626" stroke-width="0.435" stroke-linejoin="round">0.10</text>
<text transform="matrix(0.77263 0 0 0.60734 370.951 338.011)" font-family='"Liberation Sans", sans-serif' font-size="10" fill="#262626" stroke="#262626" stroke-width="0.435" stroke-linejoin="round">0.12</text>
<text transform="matrix(0.77263 0 0 0.60734 370.789 319.081)" font-family='"Liberation Sans", sans-serif' font-size="10" fill="#262626" stroke="#262626" stroke-width="0.435" stroke-linejoin="round">0.14</text>
<text transform="matrix(0.77263 0 0 0.60734 370.902 300.151)" font-family='"Liberation Sans", sans-serif' font-size="10" fill="#262626" stroke="#262626" stroke-width="0.435" stroke-linejoin="round">0.16</text>
<text transform="matrix(0.77263 0 0 0.60734 370.898 281.221)" font-family='"Liberation Sans", sans-serif' font-size="10" fill="#262626" stroke="#262626" stroke-width="0.435" stroke-linejoin="round">0.18</text>
<text transform="matrix(0.77041 0 0 0.56497 382.503 467.745)" font-family='"Liberation Sans", sans-serif' font-size="10" fill="#262626" stroke="#262626" stroke-width="0.449" stroke-linejoin="round">0.00</text>
<text transform="matrix(0.77041 0 0 0.56497 425.810 467.745)" font-family='"Liberation Sans", sans-serif' font-size="10" fill="#262626" stroke="#262626" stroke-width="0.449" stroke-linejoin="round">1.00</text>
<text transform="matrix(0.77041 0 0 0.56497 469.360 467.745)" font-family='"Liberation Sans", sans-serif' font-size="10" fill="#262626" stroke="#262626" stroke-width="0.449" stroke-linejoin="round">2.00</text>
<text transform="matrix(0.77041 0 0 0.56497 512.857 467.745)" font-family='"Liberation Sans", sans-serif' font-size="10" fill="#262626" stroke="#262626" stroke-width="0.449" stroke-linejoin="round">3.00</text>
<text transform="matrix(0.77041 0 0 0.56497 556.365 467.745)" font-family='"Liberation Sans", sans-serif' font-size="10" fill="#262626" stroke="#262626" stroke-width="0.449" stroke-linejoin="round">4.00</text>
<text transform="matrix(0.77041 0 0 0.56497 599.749 467.745)" font-family='"Liberation Sans", sans-serif' font-size="10" fill="#262626" stroke="#262626" stroke-width="0.449" stroke-linejoin="round">5.00</text>
<text transform="matrix(0.77041 0 0 0.56497 643.158 467.745)" font-family='"Liberation Sans", sans-serif' font-size="10" fill="#262626" stroke="#262626" stroke-width="0.449" stroke-linejoin="round">6.00</text>
<path d="M390.60,449.30 L390.85,449.30 L391.10,449.30 L391.35,449.30 L391.60,449.30 L391.85,449.30 L392.10,449.30 L392.35,449.30 L392.60,449.30 L392.85,449.30 L393.10,449.30 L393.35,449.30 L393.60,449.30 L393.85,449.30 L394.10,449.30 L394.35,449.30 L394.60,449.30 L394.85,449.30 L395.10,449.30 L395.35,449.30 L395.60,449.30 L395.85,449.30 L396.10,449.30 L396.35,449.30 L396.60,449.30 L396.85,449.30 L397.10,449.30 L397.35,449.30 L397.60,449.30 L397.85,449.30 L398.10,449.30 L398.35,449.30 L398.60,449.30 L398.85,449.30 L399.10,449.30 L399.35,449.30 L399.60,449.30 L399.85,449.30 L400.10,449.30 L400.35,449.30 L400.60,449.30 L400.85,449.30 L401.10,449.30 L401.35,449.30 L401.60,449.30 L401.85,449.30 L402.10,449.30 L402.35,449.30 L402.60,449.30 L402.85,449.30 L403.10,449.30 L403.35,449.30 L403.60,449.30 L403.85,449.30 L404.10,449.30 L404.35,449.30 L404.60,449.30 L404.85,449.30 L405.10,449.30 L405.35,449.30 L405.60,449.30 L405.85,449.30 L406.10,449.30 L406.35,449.30 L406.60,449.30 L406.85,449.30 L407.10,449.30 L407.35,449.30 L407.60,449.30 L407.85,449.30 L408.10,449.30 L408.35,449.30 L408.60,449.30 L408.85,449.30 L409.10,449.30 L409.35,449.30 L409.60,449.30 L409.85,449.30 L410.10,449.30 L410.35,449.30 L410.60,449.30 L410.85,449.30 L411.10,449.30 L411.35,449.30 L411.60,449.30 L411.85,449.30 L412.10,449.30 L412.35,449.30 L412.60,449.30 L412.85,449.30 L413.10,449.30 L413.35,449.30 L413.60,449.30 L413.85,449.30 L414.10,449.30 L414.35,449.30 L414.60,449.30 L414.85,449.30 L415.10,449.30 L415.35,449.30 L415.60,449.30 L415.85,449.30 L416.10,449.30 L416.35,449.30 L416.60,449.30 L416.85,449.30 L417.10,449.30 L417.35,449.30 L417.60,449.30 L417.85,449.30 L418.10,449.30 L418.35,449.30 L418.60,449.30 L418.85,449.30 L419.10,449.30 L419.35,449.30 L419.60,449.30 L419.85,449.30 L420.10,449.30 L420.35,449.30 L420.60,449.30 L420.85,449.30 L421.10,449.30 L421.35,449.30 L421.60,449.30 L421.85,449.30 L422.10,449.30 L422.35,449.30 L422.60,449.30 L422.85,449.30 L423.10,449.30 L423.35,449.30 L423.60,449.30 L423.85,449.30 L424.10,449.30 L424.35,449.30 L424.60,449.30 L424.85,449.30 L425.10,449.30 L425.35,449.30 L425.60,449.30 L425.85,449.30 L426.10,449.30 L426.35,449.30 L426.60,449.30 L426.85,449.30 L427.10,449.30 L427.35,449.30 L427.60,449.30 L427.85,449.30 L428.10,449.30 L428.35,449.30 L428.60,449.30 L428.85,449.30 L429.10,449.30 L429.35,449.30 L429.60,449.30 L429.85,449.30 L430.10,449.30 L430.35,449.30 L430.60,449.30 L430.85,449.30 L431.10,449.30 L431.35,449.30 L431.60,449.30 L431.85,449.30 L432.10,449.30 L432.35,449.30 L432.60,449.30 L432.85,449.30 L433.10,449.30 L433.35,449.30 L433.60,449.30 L433.85,449.30 L434.10,449.30 L434.35,449.30 L434.60,449.30 L434.85,449.30 L435.10,449.30 L435.35,449.30 L435.60,449.30 L435.85,449.30 L436.10,449.30 L436.35,449.30 L436.60,449.30 L436.85,449.30 L437.10,449.30 L437.35,449.30 L437.60,449.30 L437.85,449.30 L438.10,449.30 L438.35,449.30 L438.60,449.30 L438.85,449.30 L439.10,449.30 L439.35,449.30 L439.60,449.30 L439.85,449.30 L440.10,449.30 L440.35,449.30 L440.60,449.30 L440.85,449.30 L441.10,449.30 L441.35,449.30 L441.60,449.30 L441.85,449.30 L442.10,449.30 L442.35,449.30 L442.60,449.30 L442.85,449.30 L443.10,449.30 L443.35,449.30 L443.60,449.30 L443.85,449.30 L444.10,449.30 L444.35,449.30 L444.60,449.30 L444.85,449.30 L445.10,449.30 L445.35,449.30 L445.60,449.30 L445.85,449.30 L446.10,449.30 L446.35,449.30 L446.60,449.30 L446.85,449.30 L447.10,449.30 L447.35,449.30 L447.60,449.30 L447.85,449.30 L448.10,449.30 L448.35,449.30 L448.60,449.30 L448.85,449.30 L449.10,449.30 L449.35,449.30 L449.60,449.30 L449.85,449.30 L450.10,449.30 L450.35,449.30 L450.60,449.30 L450.85,449.30 L451.10,449.30 L451.35,449.30 L451.60,449.30 L451.85,449.30 L452.10,449.30 L452.35,449.30 L452.60,449.30 L452.85,449.30 L453.10,449.30 L453.35,449.30 L453.60,449.30 L453.85,449.30 L454.10,449.30 L454.35,449.30 L454.60,449.30 L454.85,449.30 L455.10,449.30 L455.35,449.30 L455.60,449.30 L455.85,449.30 L456.10,449.30 L456.35,449.30 L456.60,449.30 L456.85,449.30 L457.10,449.30 L457.35,449.30 L457.60,449.30 L457.85,449.30 L458.10,449.30 L458.35,449.30 L458.60,449.30 L458.85,449.30 L459.10,449.30 L459.35,449.30 L459.60,449.30 L459.85,449.30 L460.10,449.30 L460.35,449.30 L460.60,449.30 L460.85,449.30 L461.10,449.30 L461.35,449.30 L461.60,449.30 L461.85,449.30 L462.10,449.30 L462.35,449.30 L462.60,449.30 L462.85,449.30 L463.10,449.30 L463.35,449.30 L463.60,449.30 L463.85,449.30 L464.10,449.30 L464.35,449.30 L464.60,449.30 L464.85,449.30 L465.10,449.30 L465.35,449.30 L465.60,449.30 L465.85,449.30 L466.10,449.30 L466.35,449.30 L466.60,449.30 L466.85,449.30 L467.10,449.30 L467.35,449.30 L467.60,449.30 L467.85,449.30 L468.10,449.30 L468.35,449.30 L468.60,449.30 L468.85,449.30 L469.10,449.30 L469.35,449.30 L469.60,449.30 L469.85,449.30 L470.10,449.30 L470.35,449.30 L470.60,449.30 L470.85,449.30 L471.10,449.30 L471.35,449.30 L471.60,449.30 L471.85,449.30 L472.10,449.30 L472.35,449.30 L472.60,449.30 L472.85,449.30 L473.10,449.30 L473.35,449.30 L473.60,449.30 L473.85,449.23 L474.10,449.05 L474.35,448.79 L474.60,448.46 L474.85,448.11 L475.10,447.75 L475.35,447.41 L475.60,447.13 L475.85,446.93 L476.10,446.80 L476.35,446.69 L476.60,446.60 L476.85,446.52 L477.10,446.45 L477.35,446.39 L477.60,446.33 L477.85,446.27 L478.10,446.21 L478.35,446.14 L478.60,446.07 L478.85,445.99 L479.10,445.89 L479.35,445.78 L479.60,445.64 L479.85,445.47 L480.10,445.26 L480.35,445.01 L480.60,444.73 L480.85,444.42 L481.10,444.08 L481.35,443.72 L481.60,443.34 L481.85,442.90 L482.10,442.39 L482.35,441.81 L482.60,441.18 L482.85,440.51 L483.10,439.80 L483.35,439.00 L483.60,438.08 L483.85,437.06 L484.10,435.97 L484.35,434.84 L484.60,433.70 L484.85,432.58 L485.10,431.50 L485.35,430.49 L485.60,429.54 L485.85,428.60 L486.10,427.65 L486.35,426.72 L486.60,425.81 L486.85,424.93 L487.10,424.09 L487.35,423.29 L487.60,422.55 L487.85,421.87 L488.10,421.22 L488.35,420.59 L488.60,419.98 L488.85,419.39 L489.10,418.82 L489.35,418.28 L489.60,417.76 L489.85,417.26 L490.10,416.79 L490.35,416.36 L490.60,415.95 L490.85,415.57 L491.10,415.25 L491.35,414.99 L491.60,414.78 L491.85,414.56 L492.10,414.32 L492.35,414.01 L492.60,413.60 L492.85,412.84 L493.10,411.64 L493.35,410.21 L493.60,408.75 L493.85,407.45 L494.10,406.01 L494.35,404.49 L494.60,403.22 L494.85,402.54 L495.10,402.44 L495.35,402.39 L495.60,402.35 L495.85,402.33 L496.10,402.30 L496.35,402.26 L496.60,402.20 L496.85,402.09 L497.10,401.91 L497.35,401.66 L497.60,401.33 L497.85,400.91 L498.10,400.41 L498.35,399.81 L498.60,398.98 L498.85,396.85 L499.10,393.50 L499.35,389.32 L499.60,384.69 L499.85,379.18 L500.10,371.33 L500.35,364.65 L500.60,360.91 L500.85,357.61 L501.10,354.90 L501.35,353.07 L501.60,352.40 L501.85,353.72 L502.10,356.99 L502.35,361.22 L502.60,365.67 L502.85,371.63 L503.10,378.19 L503.35,383.80 L503.60,388.63 L503.85,393.14 L504.10,397.30 L504.35,401.09 L504.60,404.73 L504.85,408.46 L505.10,411.87 L505.35,414.53 L505.60,416.00 L505.85,416.65 L506.10,417.15 L506.35,417.54 L506.60,417.85 L506.85,418.11 L507.10,418.35 L507.35,418.61 L507.60,418.92 L507.85,419.31 L508.10,419.81 L508.35,420.42 L508.60,421.12 L508.85,421.90 L509.10,422.74 L509.35,423.68 L509.60,424.77 L509.85,425.99 L510.10,427.29 L510.35,428.62 L510.60,429.93 L510.85,431.17 L511.10,432.36 L511.35,433.63 L511.60,434.92 L511.85,436.19 L512.10,437.37 L512.35,438.42 L512.60,439.28 L512.85,439.91 L513.10,440.43 L513.35,440.92 L513.60,441.38 L513.85,441.81 L514.10,442.21 L514.35,442.57 L514.60,442.91 L514.85,443.23 L515.10,443.51 L515.35,443.77 L515.60,444.00 L515.85,444.20 L516.10,444.38 L516.35,444.53 L516.60,444.67 L516.85,444.80 L517.10,444.92 L517.35,445.04 L517.60,445.15 L517.85,445.25 L518.10,445.35 L518.35,445.44 L518.60,445.52 L518.85,445.61 L519.10,445.68 L519.35,445.76 L519.60,445.83 L519.85,445.89 L520.10,445.96 L520.35,446.02 L520.60,446.08 L520.85,446.14 L521.10,446.20 L521.35,446.26 L521.60,446.32 L521.85,446.38 L522.10,446.44 L522.35,446.50 L522.60,446.55 L522.85,446.61 L523.10,446.67 L523.35,446.73 L523.60,446.78 L523.85,446.83 L524.10,446.88 L524.35,446.93 L524.60,446.97 L524.85,447.01 L525.10,447.05 L525.35,447.09 L525.60,447.12 L525.85,447.14 L526.10,447.16 L526.35,447.18 L526.60,447.19 L526.85,447.20 L527.10,447.20 L527.35,447.19 L527.60,447.16 L527.85,447.13 L528.10,447.07 L528.35,447.01 L528.60,446.92 L528.85,446.82 L529.10,446.36 L529.35,444.92 L529.60,442.66 L529.85,439.74 L530.10,434.57 L530.35,425.03 L530.60,413.77 L530.85,402.48 L531.10,389.20 L531.35,375.57 L531.60,363.63 L531.85,354.29 L532.10,345.54 L532.35,340.67 L532.60,343.12 L532.85,351.12 L533.10,359.80 L533.35,367.85 L533.60,376.57 L533.85,384.95 L534.10,392.00 L534.35,397.87 L534.60,403.32 L534.85,408.24 L535.10,412.56 L535.35,416.17 L535.60,419.18 L535.85,421.94 L536.10,424.48 L536.35,426.80 L536.60,428.89 L536.85,430.78 L537.10,432.45 L537.35,433.93 L537.60,435.24 L537.85,436.44 L538.10,437.53 L538.35,438.51 L538.60,439.37 L538.85,440.11 L539.10,440.74 L539.35,441.31 L539.60,441.83 L539.85,442.30 L540.10,442.74 L540.35,443.14 L540.60,443.49 L540.85,443.81 L541.10,444.10 L541.35,444.36 L541.60,444.61 L541.85,444.85 L542.10,445.08 L542.35,445.29 L542.60,445.49 L542.85,445.68 L543.10,445.84 L543.35,445.99 L543.60,446.13 L543.85,446.24 L544.10,446.34 L544.35,446.42 L544.60,446.50 L544.85,446.58 L545.10,446.65 L545.35,446.71 L545.60,446.77 L545.85,446.83 L546.10,446.88 L546.35,446.93 L546.60,446.98 L546.85,447.02 L547.10,447.07 L547.35,447.11 L547.60,447.15 L547.85,447.19 L548.10,447.23 L548.35,447.28 L548.60,447.32 L548.85,447.36 L549.10,447.40 L549.35,447.44 L549.60,447.48 L549.85,447.51 L550.10,447.55 L550.35,447.59 L550.60,447.62 L550.85,447.65 L551.10,447.69 L551.35,447.72 L551.60,447.75 L551.85,447.78 L552.10,447.81 L552.35,447.83 L552.60,447.86 L552.85,447.88 L553.10,447.90 L553.35,447.92 L553.60,447.94 L553.85,447.96 L554.10,447.98 L554.35,447.99 L554.60,448.00 L554.85,448.67 L555.10,448.65 L555.35,448.62 L555.60,448.58 L555.85,448.52 L556.10,448.43 L556.35,448.31 L556.60,448.16 L556.85,447.97 L557.10,447.73 L557.35,447.44 L557.60,447.12 L557.85,446.75 L558.10,446.35 L558.35,445.94 L558.60,445.53 L558.85,445.13 L559.10,444.78 L559.35,444.47 L559.60,444.24 L559.85,444.08 L560.10,444.01 L560.35,444.01 L560.60,444.10 L560.85,444.25 L561.10,444.46 L561.35,444.71 L561.60,444.99 L561.85,445.28 L562.10,445.58 L562.35,445.87 L562.60,446.16 L562.85,446.42 L563.10,446.67 L563.35,446.89 L563.60,447.10 L563.85,447.28 L564.10,447.44 L564.35,447.59 L564.60,447.72 L564.85,447.83 L565.10,447.94 L565.35,448.03 L565.60,448.10 L565.85,448.17 L566.10,448.24 L566.35,448.29 L566.60,448.34 L566.85,448.38 L567.10,448.42 L567.35,448.45 L567.60,448.48 L567.85,448.51 L568.10,448.53 L568.35,448.55 L568.60,448.57 L568.85,448.58 L569.10,448.60 L569.35,448.61 L569.60,448.62 L569.85,448.63 L570.10,448.64 L570.35,448.64 L570.60,448.65 L570.85,448.66 L571.10,448.66 L571.35,448.67 L571.60,448.67 L571.85,448.67 L572.10,448.68 L572.35,448.68 L572.60,448.68 L572.85,448.68 L573.10,448.69 L573.35,448.69 L573.60,448.69 L573.85,448.69 L574.10,448.69 L574.35,448.69 L574.60,448.69 L574.85,448.69 L575.10,448.69 L575.35,448.70 L575.60,448.70 L575.85,448.70 L576.10,448.70 L576.35,448.70 L576.60,448.70 L576.85,448.70 L577.10,448.69 L577.35,448.69 L577.60,448.68 L577.85,448.67" fill="none" stroke="#262626" stroke-width="1.0" stroke-linejoin="round" stroke-linecap="round"/>
<path d="M578.10,448.65 L578.35,448.61 L578.60,448.55 L578.85,448.45 L579.10,448.31 L579.35,448.10 L579.60,447.80 L579.85,447.40 L580.10,446.87 L580.35,446.20 L580.60,445.37 L580.85,444.38 L581.10,443.26 L581.35,442.01 L581.60,440.70 L581.85,439.37 L582.10,438.09 L582.35,436.91 L582.60,435.89 L582.85,435.09 L583.10,434.54 L583.35,434.25 L583.60,434.22 L583.85,434.42 L584.10,434.84 L584.35,435.42 L584.60,436.13 L584.85,436.91 L585.10,437.75 L585.35,438.59 L585.60,439.42 L585.85,440.22 L586.10,440.97 L586.35,441.67 L586.60,442.32 L586.85,442.92 L587.10,443.46 L587.35,443.96 L587.60,444.41 L587.85,444.82 L588.10,445.18 L588.35,445.52 L588.60,445.82 L588.85,446.10 L589.10,446.34 L589.35,446.57 L589.60,446.77 L589.85,446.95 L590.10,447.12 L590.35,447.27 L590.60,447.41 L590.85,447.53 L591.10,447.64 L591.35,447.74 L591.60,447.83 L591.85,447.92 L592.10,447.99 L592.35,448.06 L592.60,448.12 L592.85,448.17 L593.10,448.22 L593.35,448.27 L593.60,448.31 L593.85,448.35 L594.10,448.38 L594.35,448.41 L594.60,448.44 L594.85,448.46 L595.10,448.49 L595.35,448.51 L595.60,448.52 L595.85,448.54 L596.10,448.56 L596.35,448.57 L596.60,448.58 L596.85,448.59 L597.10,448.60 L597.35,448.61 L597.60,448.62 L597.85,448.63 L598.10,448.64 L598.35,448.64 L598.60,448.65 L598.85,448.65 L599.10,448.66" fill="none" stroke="#e6343a" stroke-width="1.0" stroke-linejoin="round" stroke-linecap="round"/>
<path d="M599.35,448.66 L599.60,448.66 L599.85,448.67 L600.10,448.67 L600.35,448.67 L600.60,448.68 L600.85,448.68 L601.10,448.68 L601.35,448.68 L601.60,448.68 L601.85,448.69 L602.10,448.69 L602.35,448.69 L602.60,448.69 L602.85,448.69 L603.10,448.69 L603.35,448.69 L603.60,448.69 L603.85,448.69 L604.10,448.69 L604.35,448.69 L604.60,448.70 L604.85,448.70 L605.10,448.70 L605.35,448.70 L605.60,448.70 L605.85,448.70 L606.10,448.70 L606.35,448.70 L606.60,448.70 L606.85,448.70 L607.10,448.70 L607.35,448.70 L607.60,448.70 L607.85,448.70 L608.10,448.70 L608.35,448.70 L608.60,448.70 L608.85,448.70 L609.10,448.70 L609.35,448.70 L609.60,448.70 L609.85,448.70 L610.10,448.70 L610.35,448.70 L610.60,448.70 L610.85,448.70 L611.10,448.70 L611.35,448.70 L611.60,448.70 L611.85,448.70 L612.10,448.70 L612.35,448.70 L612.60,448.70 L612.85,448.70 L613.10,448.70 L613.35,448.70 L613.60,448.70 L613.85,448.70 L614.10,448.70 L614.35,448.70 L614.60,448.70 L614.85,448.70 L615.10,448.70 L615.35,448.70 L615.60,448.70 L615.85,448.70 L616.10,448.70 L616.35,448.70 L616.60,448.70 L616.85,448.70 L617.10,448.70 L617.35,448.70 L617.60,448.70 L617.85,448.70 L618.10,448.70 L618.35,448.70 L618.60,448.70 L618.85,448.70 L619.10,448.70 L619.35,448.70 L619.60,448.70 L619.85,448.70 L620.10,448.70 L620.35,448.70 L620.60,448.70 L620.85,448.70 L621.10,448.70 L621.35,448.70 L621.60,448.70 L621.85,448.70 L622.10,448.70 L622.35,448.70 L622.60,448.70 L622.85,448.70 L623.10,448.70 L623.35,448.70 L623.60,448.70 L623.85,448.70 L624.10,448.70 L624.35,448.70 L624.60,448.70 L624.85,448.70 L625.10,448.70 L625.35,448.70 L625.60,448.70 L625.85,448.70 L626.10,448.70 L626.35,448.70 L626.60,448.70 L626.85,448.70 L627.10,448.70 L627.35,448.70 L627.60,448.70 L627.85,448.70 L628.10,448.70 L628.35,448.70 L628.60,448.70 L628.85,448.70 L629.10,448.70 L629.35,448.70 L629.60,448.70 L629.85,448.70 L630.10,448.70 L630.35,448.70 L630.60,448.70 L630.85,448.70 L631.10,448.70 L631.35,448.70 L631.60,448.70 L631.85,448.70 L632.10,448.70 L632.35,448.70 L632.60,448.70 L632.85,448.70 L633.10,448.70 L633.35,448.70 L633.60,448.70 L633.85,448.70 L634.10,448.70 L634.35,448.70 L634.60,448.70 L634.85,448.70 L635.10,448.70 L635.35,448.70 L635.60,448.70 L635.85,448.70 L636.10,448.70 L636.35,448.70 L636.60,448.70 L636.85,448.70 L637.10,448.70 L637.35,448.70 L637.60,448.70 L637.85,448.70 L638.10,448.70 L638.35,448.70 L638.60,448.70 L638.85,448.70 L639.10,448.70 L639.35,448.70 L639.60,448.70 L639.85,448.70 L640.10,448.70 L640.35,448.70 L640.60,448.70 L640.85,448.70 L641.10,448.70 L641.35,448.70 L641.60,448.70 L641.85,448.70 L642.10,448.70 L642.35,448.70 L642.60,448.70 L642.85,448.70 L643.10,448.70 L643.35,448.70 L643.60,448.70 L643.85,448.70 L644.10,448.70 L644.35,448.70 L644.60,448.70 L644.85,448.70 L645.10,448.70 L645.35,448.70 L645.60,448.70 L645.85,448.70 L646.10,448.70 L646.35,448.70 L646.60,448.70 L646.85,448.70 L647.10,448.70 L647.35,448.70 L647.60,448.70 L647.85,448.70 L648.10,448.70 L648.35,448.70 L648.60,448.70 L648.85,448.70 L649.10,448.70 L649.35,448.70 L649.60,448.70 L649.85,448.70 L650.10,448.70 L650.35,448.70 L650.60,448.70 L650.85,448.70 L651.10,448.70 L651.35,448.70 L651.60,448.70 L651.85,448.70 L652.10,448.70 L652.35,448.70 L652.60,448.70 L652.85,448.70 L653.10,448.70 L653.35,448.70 L653.60,448.70 L653.85,448.70 L654.10,448.70 L654.35,448.70 L654.60,448.70 L654.85,448.70 L655.10,448.70 L655.35,448.70 L655.60,448.70 L655.85,448.70 L656.10,448.70 L656.35,448.70 L656.60,448.70 L656.85,448.70 L657.10,448.70 L657.35,448.70 L657.60,448.70 L657.85,448.70 L658.10,448.70 L658.35,448.70 L658.60,448.70 L658.85,448.70 L659.10,448.70 L659.35,448.70 L659.60,448.70 L659.85,448.70 L660.10,448.70 L660.35,448.70 L660.60,448.70 L660.85,448.70 L661.10,448.70 L661.35,448.70 L661.60,448.70 L661.85,448.70 L662.10,448.70 L662.35,448.70 L662.60,448.70 L662.85,448.70 L663.10,448.70 L663.35,448.70 L663.60,448.70 L663.85,448.70 L664.10,448.70 L664.35,448.70 L664.60,448.70 L664.85,448.70 L665.10,448.70 L665.35,448.70 L665.60,448.70 L665.85,448.70 L666.10,448.70 L666.35,448.70 L666.60,448.70 L666.85,448.70 L667.10,448.70 L667.35,448.70 L667.60,448.70 L667.85,448.70 L668.10,448.70 L668.35,448.70 L668.60,448.70 L668.85,448.70 L669.10,448.70 L669.35,448.70 L669.60,448.70 L669.85,448.70 L670.10,448.70 L670.35,448.70 L670.60,448.70 L670.85,448.70 L671.10,448.70 L671.35,448.70 L671.60,448.70 L671.85,448.70 L672.10,448.70 L672.35,448.70 L672.60,448.70 L672.85,448.70 L673.10,448.70 L673.35,448.70 L673.60,448.70 L673.85,448.70 L674.10,448.70 L674.35,448.70 L674.60,448.70 L674.85,448.70 L675.10,448.70 L675.35,448.70 L675.60,448.70 L675.85,448.70 L676.10,448.70 L676.35,448.70 L676.60,448.70 L676.85,448.70 L677.10,448.70 L677.35,448.70 L677.60,448.70 L677.85,448.70 L678.10,448.70 L678.35,448.70 L678.60,448.70 L678.85,448.70 L679.10,448.70 L679.35,448.70 L679.60,448.70 L679.85,448.70 L680.10,448.70 L680.35,448.70 L680.60,448.70 L680.85,448.70 L681.10,448.70 L681.35,448.70 L681.60,448.70 L681.85,448.70 L682.10,448.70 L682.35,448.70 L682.60,448.70 L682.85,448.70 L683.10,448.70 L683.35,448.70" fill="none" stroke="#262626" stroke-width="1.0" stroke-linejoin="round" stroke-linecap="round"/>
<text transform="matrix(0 -0.66678 0.96681 0 535.606 339.039)" font-family='"Liberation Sans", sans-serif' font-size="10" fill="#222" stroke="#222" stroke-width="0.147" stroke-linejoin="round">Caffeine</text>
<text transform="matrix(0 -0.69905 0.85787 0 563.016 442.773)" font-family='"Liberation Sans", sans-serif' font-size="10" fill="#222" stroke="#222" stroke-width="0.154" stroke-linejoin="round">Resveratrol</text>
<text transform="matrix(0 -0.69578 0.93335 0 585.863 433.471)" font-family='"Liberation Sans", sans-serif' font-size="10" fill="#222" stroke="#222" stroke-width="0.147" stroke-linejoin="round">Raspberry Ketone</text>
<text transform="matrix(0 -0.74042 1.16087 0 360.487 373.014)" font-family='"Liberation Sans", sans-serif' font-size="10" fill="#222" stroke="#222" stroke-width="0.368" stroke-linejoin="round">AU</text>
<text transform="matrix(1.08770 0 0 0.73532 516.308 479.028)" font-family='"Liberation Sans", sans-serif' font-size="10" fill="#222" stroke="#222" stroke-width="0.384" stroke-linejoin="round">Minutes</text>
<text transform="matrix(1.15131 0 0 1.09435 346.834 278.743)" font-family='"Liberation Serif", serif' font-size="10" fill="#111" stroke="#111" stroke-width="0.178" stroke-linejoin="round">d</text>
</svg>
</body></html>
